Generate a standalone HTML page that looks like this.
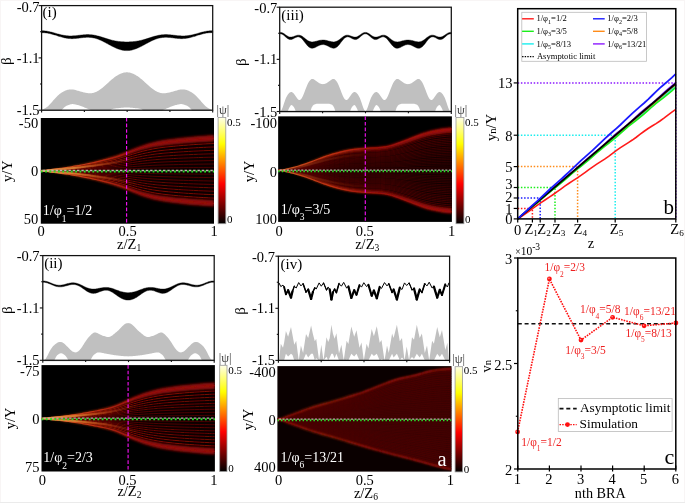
<!DOCTYPE html>
<html><head><meta charset="utf-8"><style>html,body{margin:0;padding:0;background:#fff;width:685px;height:503px;overflow:hidden}svg{display:block;will-change:transform}text{font-family:"Liberation Serif",serif}</style></head>
<body><svg width="685" height="503" viewBox="0 0 685 503" font-family='"Liberation Serif", serif'><defs><clipPath id="clipiv"><rect x="278.4" y="250" width="171.2" height="115"/></clipPath><filter id="blur1" x="-10%" y="-50%" width="120%" height="200%"><feGaussianBlur stdDeviation="1.0"/></filter><filter id="blur15" x="-10%" y="-50%" width="120%" height="200%"><feGaussianBlur stdDeviation="1.4"/></filter><filter id="blur05" x="-10%" y="-50%" width="120%" height="200%"><feGaussianBlur stdDeviation="0.55"/></filter><clipPath id="hci"><rect x="40.8" y="118" width="173.2" height="105.7"/></clipPath><path id="envi" d="M40.8,-0 C41.65,-0.07 44.2,-0.19 45.89,-0.4 C47.59,-0.62 49.29,-1.03 50.99,-1.29 C52.69,-1.55 54.38,-1.73 56.08,-1.96 C57.78,-2.19 59.48,-2.43 61.18,-2.67 C62.87,-2.92 64.57,-3.17 66.27,-3.42 C67.97,-3.68 69.67,-3.93 71.36,-4.21 C73.06,-4.49 74.76,-4.77 76.46,-5.08 C78.16,-5.38 79.85,-5.71 81.55,-6.04 C83.25,-6.37 84.95,-6.72 86.65,-7.07 C88.35,-7.42 90.04,-7.78 91.74,-8.16 C93.44,-8.53 95.14,-8.93 96.84,-9.33 C98.53,-9.73 100.23,-10.15 101.93,-10.58 C103.63,-11 105.33,-11.43 107.02,-11.88 C108.72,-12.32 110.42,-12.77 112.12,-13.27 C113.82,-13.76 115.51,-14.28 117.21,-14.84 C118.91,-15.4 120.61,-15.99 122.31,-16.61 C124,-17.24 125.7,-17.91 127.4,-18.58 C129.1,-19.25 130.8,-19.97 132.49,-20.65 C134.19,-21.32 135.89,-22.01 137.59,-22.63 C139.29,-23.26 140.98,-23.86 142.68,-24.41 C144.38,-24.96 146.08,-25.47 147.78,-25.94 C149.47,-26.42 151.17,-26.86 152.87,-27.26 C154.57,-27.66 156.27,-28.02 157.96,-28.35 C159.66,-28.68 161.36,-28.96 163.06,-29.23 C164.76,-29.5 166.45,-29.74 168.15,-29.97 C169.85,-30.2 171.55,-30.41 173.25,-30.62 C174.95,-30.83 176.64,-31.03 178.34,-31.22 C180.04,-31.41 181.74,-31.59 183.44,-31.76 C185.13,-31.93 186.83,-32.09 188.53,-32.25 C190.23,-32.4 191.93,-32.56 193.62,-32.7 C195.32,-32.85 197.02,-32.99 198.72,-33.12 C200.42,-33.25 202.11,-33.38 203.81,-33.49 C205.51,-33.61 207.21,-33.73 208.91,-33.83 C210.6,-33.93 213.15,-34.04 214,-34.08" fill="none" vector-effect="non-scaling-stroke"/><linearGradient id="ogi" x1="40.8" y1="0" x2="214" y2="0" gradientUnits="userSpaceOnUse"><stop offset="0" stop-color="#d86a2a"/><stop offset="0.3" stop-color="#c03010"/><stop offset="0.55" stop-color="#900c08"/><stop offset="1" stop-color="#900c08"/></linearGradient><linearGradient id="cgi" x1="40.8" y1="0" x2="144.72" y2="0" gradientUnits="userSpaceOnUse"><stop offset="0" stop-color="#ffd070" stop-opacity="0.4"/><stop offset="0.3" stop-color="#f0a040" stop-opacity="0.76"/><stop offset="0.6" stop-color="#d86020" stop-opacity="0.48"/><stop offset="1" stop-color="#a02010" stop-opacity="0"/></linearGradient><clipPath id="hcii"><rect x="41.5" y="365.1" width="173.4" height="106.4"/></clipPath><path id="envii" d="M41.5,-0 C42.35,-0.06 44.9,-0.16 46.6,-0.35 C48.3,-0.53 50,-0.89 51.7,-1.12 C53.4,-1.34 55.1,-1.5 56.8,-1.7 C58.5,-1.9 60.2,-2.11 61.9,-2.32 C63.6,-2.53 65.3,-2.76 67,-2.98 C68.7,-3.21 70.4,-3.43 72.1,-3.68 C73.8,-3.92 75.5,-4.17 77.2,-4.43 C78.9,-4.7 80.6,-4.98 82.3,-5.26 C84,-5.55 85.7,-5.84 87.4,-6.15 C89.1,-6.45 90.8,-6.76 92.5,-7.09 C94.2,-7.41 95.9,-7.76 97.6,-8.11 C99.3,-8.47 101,-8.83 102.7,-9.21 C104.4,-9.6 106.1,-9.98 107.8,-10.43 C109.5,-10.88 111.2,-11.35 112.9,-11.91 C114.6,-12.47 116.3,-13.1 118,-13.79 C119.7,-14.47 121.4,-15.25 123.1,-16.01 C124.8,-16.77 126.5,-17.59 128.2,-18.34 C129.9,-19.09 131.6,-19.82 133.3,-20.5 C135,-21.19 136.7,-21.84 138.4,-22.46 C140.1,-23.08 141.8,-23.67 143.5,-24.22 C145.2,-24.78 146.9,-25.3 148.6,-25.79 C150.3,-26.28 152,-26.73 153.7,-27.15 C155.4,-27.57 157.1,-27.95 158.8,-28.3 C160.5,-28.65 162.2,-28.96 163.9,-29.25 C165.6,-29.54 167.3,-29.79 169,-30.04 C170.7,-30.29 172.4,-30.52 174.1,-30.75 C175.8,-30.97 177.5,-31.19 179.2,-31.4 C180.9,-31.6 182.6,-31.78 184.3,-31.96 C186,-32.13 187.7,-32.29 189.4,-32.45 C191.1,-32.6 192.8,-32.76 194.5,-32.9 C196.2,-33.05 197.9,-33.19 199.6,-33.32 C201.3,-33.45 203,-33.58 204.7,-33.69 C206.4,-33.81 208.1,-33.93 209.8,-34.03 C211.5,-34.13 214.05,-34.24 214.9,-34.28" fill="none" vector-effect="non-scaling-stroke"/><linearGradient id="ogii" x1="41.5" y1="0" x2="214.9" y2="0" gradientUnits="userSpaceOnUse"><stop offset="0" stop-color="#d86a2a"/><stop offset="0.3" stop-color="#c03010"/><stop offset="0.55" stop-color="#900c08"/><stop offset="1" stop-color="#900c08"/></linearGradient><linearGradient id="cgii" x1="41.5" y1="0" x2="145.54" y2="0" gradientUnits="userSpaceOnUse"><stop offset="0" stop-color="#ffd070" stop-opacity="0.4"/><stop offset="0.3" stop-color="#f0a040" stop-opacity="0.76"/><stop offset="0.6" stop-color="#d86020" stop-opacity="0.48"/><stop offset="1" stop-color="#a02010" stop-opacity="0"/></linearGradient><clipPath id="hciii"><rect x="278.15" y="116.35" width="173.75" height="105.55"/></clipPath><path id="enviii" d="M278.15,-0 C279,-0.09 281.56,-0.24 283.26,-0.56 C284.96,-0.88 286.67,-1.49 288.37,-1.92 C290.07,-2.36 291.78,-2.72 293.48,-3.16 C295.18,-3.61 296.89,-4.1 298.59,-4.61 C300.29,-5.13 302,-5.68 303.7,-6.26 C305.4,-6.84 307.11,-7.46 308.81,-8.09 C310.52,-8.73 312.22,-9.41 313.92,-10.07 C315.63,-10.74 317.33,-11.43 319.03,-12.09 C320.74,-12.75 322.44,-13.41 324.14,-14.04 C325.85,-14.66 327.55,-15.25 329.25,-15.82 C330.96,-16.39 332.66,-16.93 334.36,-17.44 C336.07,-17.94 337.77,-18.41 339.47,-18.85 C341.18,-19.29 342.88,-19.71 344.58,-20.08 C346.29,-20.45 347.99,-20.77 349.69,-21.06 C351.4,-21.35 353.1,-21.6 354.8,-21.82 C356.51,-22.04 358.21,-22.21 359.91,-22.37 C361.62,-22.54 363.32,-22.69 365.02,-22.82 C366.73,-22.96 368.43,-23.07 370.14,-23.18 C371.84,-23.29 373.54,-23.37 375.25,-23.47 C376.95,-23.57 378.65,-23.63 380.36,-23.79 C382.06,-23.95 383.76,-24.12 385.47,-24.42 C387.17,-24.73 388.87,-25.16 390.58,-25.64 C392.28,-26.12 393.98,-26.71 395.69,-27.3 C397.39,-27.89 399.09,-28.55 400.8,-29.19 C402.5,-29.84 404.2,-30.51 405.91,-31.18 C407.61,-31.84 409.31,-32.52 411.02,-33.18 C412.72,-33.85 414.42,-34.51 416.13,-35.16 C417.83,-35.8 419.53,-36.47 421.24,-37.06 C422.94,-37.66 424.65,-38.23 426.35,-38.74 C428.05,-39.26 429.76,-39.72 431.46,-40.13 C433.16,-40.53 434.87,-40.88 436.57,-41.2 C438.27,-41.52 439.98,-41.8 441.68,-42.05 C443.38,-42.31 445.09,-42.55 446.79,-42.74 C448.49,-42.92 451.05,-43.11 451.9,-43.19" fill="none" vector-effect="non-scaling-stroke"/><linearGradient id="ogiii" x1="278.15" y1="0" x2="451.9" y2="0" gradientUnits="userSpaceOnUse"><stop offset="0" stop-color="#c05020"/><stop offset="0.3" stop-color="#c03010"/><stop offset="0.55" stop-color="#9a1008"/><stop offset="1" stop-color="#9a1008"/></linearGradient><linearGradient id="cgiii" x1="278.15" y1="0" x2="382.4" y2="0" gradientUnits="userSpaceOnUse"><stop offset="0" stop-color="#ffd070" stop-opacity="0.1"/><stop offset="0.3" stop-color="#f0a040" stop-opacity="0.19"/><stop offset="0.6" stop-color="#d86020" stop-opacity="0.12"/><stop offset="1" stop-color="#a02010" stop-opacity="0"/></linearGradient><clipPath id="hciv"><rect x="277.4" y="366.1" width="174.1" height="105.5"/></clipPath><path id="enviv" d="M277.4,-0 C278.25,-0.17 280.81,-0.48 282.52,-1.05 C284.23,-1.62 285.93,-2.71 287.64,-3.42 C289.35,-4.12 291.05,-4.63 292.76,-5.27 C294.47,-5.9 296.18,-6.57 297.88,-7.24 C299.59,-7.91 301.3,-8.62 303,-9.27 C304.71,-9.93 306.42,-10.58 308.12,-11.17 C309.83,-11.77 311.54,-12.31 313.24,-12.84 C314.95,-13.37 316.66,-13.84 318.36,-14.34 C320.07,-14.83 321.78,-15.31 323.49,-15.8 C325.19,-16.29 326.9,-16.79 328.61,-17.29 C330.31,-17.79 332.02,-18.3 333.73,-18.8 C335.43,-19.31 337.14,-19.82 338.85,-20.34 C340.55,-20.85 342.26,-21.36 343.97,-21.88 C345.67,-22.4 347.38,-22.92 349.09,-23.45 C350.8,-23.97 352.5,-24.49 354.21,-25.03 C355.92,-25.58 357.62,-26.12 359.33,-26.7 C361.04,-27.28 362.74,-27.89 364.45,-28.53 C366.16,-29.16 367.86,-29.84 369.57,-30.51 C371.28,-31.18 372.98,-31.88 374.69,-32.56 C376.4,-33.24 378.1,-33.92 379.81,-34.59 C381.52,-35.25 383.23,-35.91 384.93,-36.57 C386.64,-37.23 388.35,-37.91 390.05,-38.54 C391.76,-39.16 393.47,-39.78 395.17,-40.33 C396.88,-40.88 398.59,-41.37 400.29,-41.82 C402,-42.26 403.71,-42.61 405.41,-42.99 C407.12,-43.36 408.83,-43.67 410.54,-44.05 C412.24,-44.43 413.95,-44.82 415.66,-45.26 C417.36,-45.69 419.07,-46.18 420.78,-46.66 C422.48,-47.14 424.19,-47.69 425.9,-48.16 C427.6,-48.62 429.31,-49.08 431.02,-49.45 C432.72,-49.82 434.43,-50.12 436.14,-50.38 C437.85,-50.64 439.55,-50.8 441.26,-50.98 C442.97,-51.16 444.67,-51.32 446.38,-51.46 C448.09,-51.61 450.65,-51.77 451.5,-51.83" fill="none" vector-effect="non-scaling-stroke"/><path id="envdiv" d="M277.4,0 C278.25,0.17 280.81,0.46 282.52,1 C284.23,1.55 285.93,2.6 287.64,3.27 C289.35,3.95 291.05,4.44 292.76,5.05 C294.47,5.67 296.18,6.32 297.88,6.96 C299.59,7.61 301.3,8.3 303,8.94 C304.71,9.58 306.42,10.22 308.12,10.81 C309.83,11.39 311.54,11.94 313.24,12.47 C314.95,13 316.66,13.49 318.36,13.99 C320.07,14.49 321.78,14.98 323.49,15.48 C325.19,15.98 326.9,16.48 328.61,16.98 C330.31,17.49 332.02,18 333.73,18.5 C335.43,19.01 337.14,19.52 338.85,20.03 C340.55,20.55 342.26,21.06 343.97,21.57 C345.67,22.09 347.38,22.6 349.09,23.12 C350.8,23.64 352.5,24.16 354.21,24.68 C355.92,25.2 357.62,25.71 359.33,26.23 C361.04,26.75 362.74,27.26 364.45,27.78 C366.16,28.29 367.86,28.8 369.57,29.31 C371.28,29.82 372.98,30.33 374.69,30.83 C376.4,31.32 378.1,31.82 379.81,32.29 C381.52,32.77 383.23,33.23 384.93,33.69 C386.64,34.14 388.35,34.59 390.05,35.04 C391.76,35.49 393.47,35.93 395.17,36.38 C396.88,36.82 398.59,37.27 400.29,37.71 C402,38.15 403.71,38.59 405.41,39.04 C407.12,39.48 408.83,39.92 410.54,40.37 C412.24,40.82 413.95,41.28 415.66,41.75 C417.36,42.22 419.07,42.7 420.78,43.18 C422.48,43.66 424.19,44.16 425.9,44.65 C427.6,45.13 429.31,45.61 431.02,46.08 C432.72,46.56 434.43,47.02 436.14,47.48 C437.85,47.93 439.55,48.39 441.26,48.83 C442.97,49.26 444.67,49.72 446.38,50.09 C448.09,50.46 450.65,50.89 451.5,51.05" fill="none" vector-effect="non-scaling-stroke"/><linearGradient id="ogiv" x1="277.4" y1="0" x2="451.5" y2="0" gradientUnits="userSpaceOnUse"><stop offset="0" stop-color="#b81a10"/><stop offset="0.3" stop-color="#c03010"/><stop offset="0.55" stop-color="#c01c12"/><stop offset="1" stop-color="#c01c12"/></linearGradient><linearGradient id="hot" x1="0" y1="1" x2="0" y2="0"><stop offset="0" stop-color="#000"/><stop offset="0.375" stop-color="#ff0000"/><stop offset="0.75" stop-color="#ffff00"/><stop offset="1" stop-color="#ffffe8"/></linearGradient></defs><rect width="685" height="503" fill="#fff"/><path d="M41.7,110 L42.4,109.68 L43.11,109.35 L43.81,109 L44.51,108.62 L45.22,108.22 L45.92,107.78 L46.62,107.29 L47.33,106.77 L48.03,106.19 L48.73,105.56 L49.44,104.87 L50.14,104.12 L50.84,103.34 L51.55,102.52 L52.25,101.69 L52.95,100.85 L53.66,100.02 L54.36,99.2 L55.06,98.41 L55.77,97.64 L56.47,96.9 L57.17,96.2 L57.88,95.53 L58.58,94.89 L59.28,94.3 L59.99,93.74 L60.69,93.23 L61.39,92.75 L62.1,92.31 L62.8,91.9 L63.5,91.53 L64.21,91.18 L64.91,90.86 L65.61,90.57 L66.32,90.3 L67.02,90.07 L67.72,89.87 L68.43,89.7 L69.13,89.57 L69.83,89.47 L70.54,89.41 L71.24,89.4 L71.94,89.43 L72.65,89.49 L73.35,89.59 L74.05,89.72 L74.76,89.87 L75.46,90.05 L76.16,90.23 L76.87,90.43 L77.57,90.63 L78.27,90.84 L78.98,91.04 L79.68,91.24 L80.38,91.44 L81.09,91.64 L81.79,91.83 L82.49,92.02 L83.2,92.2 L83.9,92.38 L84.6,92.55 L85.3,92.71 L86.01,92.86 L86.71,93 L87.41,93.12 L88.12,93.21 L88.82,93.28 L89.52,93.32 L90.23,93.33 L90.93,93.3 L91.63,93.23 L92.34,93.12 L93.04,92.97 L93.74,92.79 L94.45,92.56 L95.15,92.31 L95.85,92.01 L96.56,91.69 L97.26,91.33 L97.96,90.94 L98.67,90.52 L99.37,90.06 L100.07,89.59 L100.78,89.08 L101.48,88.55 L102.18,88 L102.89,87.43 L103.59,86.84 L104.29,86.23 L105,85.61 L105.7,84.97 L106.4,84.33 L107.11,83.68 L107.81,83.03 L108.51,82.38 L109.22,81.73 L109.92,81.1 L110.62,80.48 L111.33,79.87 L112.03,79.28 L112.73,78.71 L113.44,78.16 L114.14,77.62 L114.84,77.1 L115.55,76.6 L116.25,76.12 L116.95,75.66 L117.66,75.22 L118.36,74.8 L119.06,74.4 L119.77,74.04 L120.47,73.7 L121.17,73.4 L121.88,73.13 L122.58,72.9 L123.28,72.71 L123.99,72.57 L124.69,72.46 L125.39,72.39 L126.1,72.34 L126.8,72.3 L127.5,72.34 L128.21,72.39 L128.91,72.46 L129.61,72.57 L130.32,72.71 L131.02,72.9 L131.72,73.13 L132.43,73.4 L133.13,73.7 L133.83,74.04 L134.54,74.4 L135.24,74.8 L135.94,75.22 L136.65,75.66 L137.35,76.12 L138.05,76.6 L138.76,77.1 L139.46,77.62 L140.16,78.16 L140.87,78.71 L141.57,79.28 L142.27,79.87 L142.98,80.48 L143.68,81.1 L144.38,81.73 L145.09,82.38 L145.79,83.03 L146.49,83.68 L147.2,84.33 L147.9,84.97 L148.6,85.61 L149.31,86.23 L150.01,86.84 L150.71,87.43 L151.42,88 L152.12,88.55 L152.82,89.08 L153.53,89.59 L154.23,90.06 L154.93,90.52 L155.64,90.94 L156.34,91.33 L157.04,91.69 L157.75,92.01 L158.45,92.31 L159.15,92.56 L159.86,92.79 L160.56,92.97 L161.26,93.12 L161.97,93.23 L162.67,93.3 L163.37,93.33 L164.08,93.32 L164.78,93.28 L165.48,93.21 L166.19,93.12 L166.89,93 L167.59,92.86 L168.3,92.71 L169,92.55 L169.7,92.38 L170.4,92.2 L171.11,92.02 L171.81,91.83 L172.51,91.64 L173.22,91.44 L173.92,91.24 L174.62,91.04 L175.33,90.84 L176.03,90.63 L176.73,90.43 L177.44,90.23 L178.14,90.05 L178.84,89.87 L179.55,89.72 L180.25,89.59 L180.95,89.49 L181.66,89.43 L182.36,89.4 L183.06,89.41 L183.77,89.47 L184.47,89.57 L185.17,89.7 L185.88,89.87 L186.58,90.07 L187.28,90.3 L187.99,90.57 L188.69,90.86 L189.39,91.18 L190.1,91.53 L190.8,91.9 L191.5,92.31 L192.21,92.75 L192.91,93.23 L193.61,93.74 L194.32,94.3 L195.02,94.89 L195.72,95.53 L196.43,96.2 L197.13,96.9 L197.83,97.64 L198.54,98.41 L199.24,99.2 L199.94,100.02 L200.65,100.85 L201.35,101.69 L202.05,102.52 L202.76,103.34 L203.46,104.12 L204.16,104.87 L204.87,105.56 L205.57,106.19 L206.27,106.77 L206.98,107.29 L207.68,107.78 L208.38,108.22 L209.09,108.62 L209.79,109 L210.49,109.35 L211.2,109.68 L211.9,110 L211.9,110.9 L41.7,110.9 Z" fill="#c0c0c0"/>
<path d="M61.5,110.4 L62.21,109.54 L62.93,108.71 L63.64,107.94 L64.36,107.25 L65.07,106.67 L65.79,106.21 L66.5,105.86 L67.21,105.53 L67.93,105.22 L68.64,104.93 L69.36,104.67 L70.07,104.46 L70.79,104.28 L71.5,104.16 L72.21,104.11 L72.93,104.11 L73.64,104.16 L74.36,104.25 L75.07,104.38 L75.79,104.53 L76.5,104.7 L77.21,104.89 L77.93,105.08 L78.64,105.28 L79.36,105.47 L80.07,105.69 L80.79,105.94 L81.5,106.21 L82.21,106.51 L82.93,106.81 L83.64,107.12 L84.36,107.43 L85.07,107.74 L85.79,108.03 L86.5,108.32 L87.21,108.62 L87.93,108.91 L88.64,109.2 L89.36,109.5 L90.07,109.8 L90.79,110.1 L91.5,110.4 Z" fill="#fff"/>
<path d="M192.1,110.4 L191.39,109.54 L190.67,108.71 L189.96,107.94 L189.24,107.25 L188.53,106.67 L187.81,106.21 L187.1,105.86 L186.39,105.53 L185.67,105.22 L184.96,104.93 L184.24,104.67 L183.53,104.46 L182.81,104.28 L182.1,104.16 L181.39,104.11 L180.67,104.11 L179.96,104.16 L179.24,104.25 L178.53,104.38 L177.81,104.53 L177.1,104.7 L176.39,104.89 L175.67,105.08 L174.96,105.28 L174.24,105.47 L173.53,105.69 L172.81,105.94 L172.1,106.21 L171.39,106.51 L170.67,106.81 L169.96,107.12 L169.24,107.43 L168.53,107.74 L167.81,108.03 L167.1,108.32 L166.39,108.62 L165.67,108.91 L164.96,109.2 L164.24,109.5 L163.53,109.8 L162.81,110.1 L162.1,110.4 Z" fill="#fff"/>
<path d="M110.5,110.4 L111.21,109.66 L111.92,109.13 L112.63,108.93 L113.33,108.77 L114.04,108.63 L114.75,108.52 L115.46,108.42 L116.17,108.34 L116.88,108.27 L117.59,108.21 L118.3,108.14 L119,108.08 L119.71,108.01 L120.42,107.93 L121.13,107.86 L121.84,107.79 L122.55,107.73 L123.26,107.66 L123.97,107.6 L124.67,107.55 L125.38,107.49 L126.09,107.44 L126.8,107.4 L127.51,107.44 L128.22,107.49 L128.93,107.55 L129.63,107.6 L130.34,107.66 L131.05,107.73 L131.76,107.79 L132.47,107.86 L133.18,107.93 L133.89,108.01 L134.6,108.08 L135.3,108.14 L136.01,108.21 L136.72,108.27 L137.43,108.34 L138.14,108.42 L138.85,108.52 L139.56,108.63 L140.27,108.77 L140.97,108.93 L141.68,109.13 L142.39,109.66 L143.1,110.4 Z" fill="#fff"/>
<path d="M41.7,30.75 L42.5,30.76 L43.3,30.79 L44.1,30.84 L44.9,30.92 L45.7,31.01 L46.49,31.12 L47.29,31.24 L48.09,31.39 L48.89,31.55 L49.69,31.72 L50.49,31.91 L51.29,32.1 L52.09,32.31 L52.89,32.53 L53.69,32.75 L54.49,32.97 L55.28,33.2 L56.08,33.43 L56.88,33.65 L57.68,33.88 L58.48,34.1 L59.28,34.31 L60.08,34.51 L60.88,34.71 L61.68,34.89 L62.48,35.06 L63.27,35.22 L64.07,35.37 L64.87,35.49 L65.67,35.61 L66.47,35.7 L67.27,35.78 L68.07,35.84 L68.87,35.89 L69.67,35.92 L70.47,35.93 L71.27,35.93 L72.06,35.91 L72.86,35.87 L73.66,35.83 L74.46,35.77 L75.26,35.7 L76.06,35.63 L76.86,35.54 L77.66,35.45 L78.46,35.36 L79.26,35.26 L80.06,35.17 L80.85,35.07 L81.65,34.98 L82.45,34.9 L83.25,34.82 L84.05,34.75 L84.85,34.69 L85.65,34.64 L86.45,34.61 L87.25,34.59 L88.05,34.59 L88.84,34.6 L89.64,34.63 L90.44,34.68 L91.24,34.75 L92.04,34.83 L92.84,34.93 L93.64,35.05 L94.44,35.19 L95.24,35.35 L96.04,35.52 L96.84,35.7 L97.63,35.9 L98.43,36.12 L99.23,36.34 L100.03,36.57 L100.83,36.82 L101.63,37.06 L102.43,37.32 L103.23,37.57 L104.03,37.83 L104.83,38.09 L105.63,38.35 L106.42,38.6 L107.22,38.85 L108.02,39.1 L108.82,39.34 L109.62,39.57 L110.42,39.79 L111.22,40 L112.02,40.2 L112.82,40.39 L113.62,40.57 L114.41,40.73 L115.21,40.89 L116.01,41.03 L116.81,41.16 L117.61,41.28 L118.41,41.39 L119.21,41.49 L120.01,41.58 L120.81,41.65 L121.61,41.72 L122.41,41.77 L123.2,41.82 L124,41.85 L124.8,41.88 L125.6,41.9 L126.4,41.91 L127.2,41.91 L128,41.9 L128.8,41.88 L129.6,41.85 L130.4,41.82 L131.2,41.77 L131.99,41.72 L132.79,41.65 L133.59,41.58 L134.39,41.49 L135.19,41.39 L135.99,41.28 L136.79,41.16 L137.59,41.03 L138.39,40.89 L139.19,40.73 L139.99,40.57 L140.78,40.39 L141.58,40.2 L142.38,40 L143.18,39.79 L143.98,39.57 L144.78,39.34 L145.58,39.1 L146.38,38.85 L147.18,38.6 L147.98,38.35 L148.77,38.09 L149.57,37.83 L150.37,37.57 L151.17,37.32 L151.97,37.06 L152.77,36.82 L153.57,36.57 L154.37,36.34 L155.17,36.12 L155.97,35.9 L156.77,35.7 L157.56,35.52 L158.36,35.35 L159.16,35.19 L159.96,35.05 L160.76,34.93 L161.56,34.83 L162.36,34.75 L163.16,34.68 L163.96,34.63 L164.76,34.6 L165.56,34.59 L166.35,34.59 L167.15,34.61 L167.95,34.64 L168.75,34.69 L169.55,34.75 L170.35,34.82 L171.15,34.9 L171.95,34.98 L172.75,35.07 L173.55,35.17 L174.34,35.26 L175.14,35.36 L175.94,35.45 L176.74,35.54 L177.54,35.63 L178.34,35.7 L179.14,35.77 L179.94,35.83 L180.74,35.87 L181.54,35.91 L182.34,35.93 L183.13,35.93 L183.93,35.92 L184.73,35.89 L185.53,35.84 L186.33,35.78 L187.13,35.7 L187.93,35.61 L188.73,35.49 L189.53,35.37 L190.33,35.22 L191.13,35.06 L191.92,34.89 L192.72,34.71 L193.52,34.51 L194.32,34.31 L195.12,34.1 L195.92,33.88 L196.72,33.65 L197.52,33.43 L198.32,33.2 L199.12,32.97 L199.91,32.75 L200.71,32.53 L201.51,32.31 L202.31,32.1 L203.11,31.91 L203.91,31.72 L204.71,31.55 L205.51,31.39 L206.31,31.24 L207.11,31.12 L207.91,31.01 L208.7,30.91 L209.5,30.84 L210.3,30.79 L211.1,30.76 L211.9,30.75 L212.7,30.76 L212.7,32.66 L211.9,32.65 L211.1,32.66 L210.3,32.69 L209.5,32.74 L208.7,32.8 L207.91,32.89 L207.11,33 L206.31,33.12 L205.51,33.26 L204.71,33.41 L203.91,33.59 L203.11,33.77 L202.31,33.97 L201.51,34.18 L200.71,34.41 L199.91,34.64 L199.12,34.88 L198.32,35.12 L197.52,35.37 L196.72,35.62 L195.92,35.88 L195.12,36.13 L194.32,36.38 L193.52,36.62 L192.72,36.86 L191.92,37.09 L191.13,37.3 L190.33,37.51 L189.53,37.7 L188.73,37.88 L187.93,38.04 L187.13,38.18 L186.33,38.3 L185.53,38.41 L184.73,38.49 L183.93,38.56 L183.13,38.6 L182.34,38.63 L181.54,38.64 L180.74,38.63 L179.94,38.6 L179.14,38.56 L178.34,38.5 L177.54,38.43 L176.74,38.35 L175.94,38.26 L175.14,38.17 L174.34,38.07 L173.55,37.96 L172.75,37.86 L171.95,37.76 L171.15,37.67 L170.35,37.58 L169.55,37.5 L168.75,37.44 L167.95,37.39 L167.15,37.35 L166.35,37.33 L165.56,37.33 L164.76,37.35 L163.96,37.39 L163.16,37.45 L162.36,37.54 L161.56,37.65 L160.76,37.78 L159.96,37.94 L159.16,38.12 L158.36,38.32 L157.56,38.55 L156.77,38.8 L155.97,39.08 L155.17,39.37 L154.37,39.68 L153.57,40.02 L152.77,40.37 L151.97,40.73 L151.17,41.11 L150.37,41.51 L149.57,41.91 L148.77,42.33 L147.98,42.75 L147.18,43.17 L146.38,43.61 L145.58,44.04 L144.78,44.47 L143.98,44.91 L143.18,45.34 L142.38,45.76 L141.58,46.18 L140.78,46.58 L139.99,46.98 L139.19,47.36 L138.39,47.73 L137.59,48.09 L136.79,48.42 L135.99,48.74 L135.19,49.04 L134.39,49.31 L133.59,49.56 L132.79,49.78 L131.99,49.98 L131.2,50.16 L130.4,50.3 L129.6,50.42 L128.8,50.51 L128,50.57 L127.2,50.6 L126.4,50.6 L125.6,50.57 L124.8,50.51 L124,50.42 L123.2,50.3 L122.41,50.16 L121.61,49.99 L120.81,49.79 L120.01,49.56 L119.21,49.31 L118.41,49.04 L117.61,48.74 L116.81,48.42 L116.01,48.09 L115.21,47.73 L114.41,47.36 L113.62,46.98 L112.82,46.58 L112.02,46.18 L111.22,45.76 L110.42,45.34 L109.62,44.91 L108.82,44.47 L108.02,44.04 L107.22,43.61 L106.42,43.17 L105.63,42.75 L104.83,42.33 L104.03,41.91 L103.23,41.51 L102.43,41.11 L101.63,40.73 L100.83,40.37 L100.03,40.02 L99.23,39.68 L98.43,39.37 L97.63,39.08 L96.84,38.8 L96.04,38.55 L95.24,38.32 L94.44,38.12 L93.64,37.94 L92.84,37.78 L92.04,37.65 L91.24,37.54 L90.44,37.45 L89.64,37.39 L88.84,37.35 L88.05,37.33 L87.25,37.33 L86.45,37.35 L85.65,37.39 L84.85,37.44 L84.05,37.5 L83.25,37.58 L82.45,37.67 L81.65,37.76 L80.85,37.86 L80.06,37.96 L79.26,38.07 L78.46,38.17 L77.66,38.26 L76.86,38.35 L76.06,38.43 L75.26,38.5 L74.46,38.56 L73.66,38.6 L72.86,38.63 L72.06,38.64 L71.27,38.63 L70.47,38.6 L69.67,38.56 L68.87,38.49 L68.07,38.41 L67.27,38.3 L66.47,38.18 L65.67,38.04 L64.87,37.88 L64.07,37.7 L63.27,37.51 L62.48,37.3 L61.68,37.09 L60.88,36.86 L60.08,36.62 L59.28,36.38 L58.48,36.13 L57.68,35.88 L56.88,35.62 L56.08,35.37 L55.28,35.12 L54.49,34.88 L53.69,34.64 L52.89,34.41 L52.09,34.18 L51.29,33.97 L50.49,33.77 L49.69,33.59 L48.89,33.41 L48.09,33.26 L47.29,33.12 L46.49,33 L45.7,32.89 L44.9,32.8 L44.1,32.74 L43.3,32.69 L42.5,32.66 L41.7,32.65 Z" fill="#000" stroke="#000" stroke-width="0.4"/>
<rect x="41.6" y="5.6" width="171.1" height="104.6" fill="none" stroke="#111" stroke-width="1.25"/>
<line x1="38.6" y1="5.6" x2="41.6" y2="5.6" stroke="#111" stroke-width="1.1"/>
<line x1="40" y1="31.75" x2="41.6" y2="31.75" stroke="#111" stroke-width="1.1"/>
<line x1="38.6" y1="57.9" x2="41.6" y2="57.9" stroke="#111" stroke-width="1.1"/>
<line x1="40" y1="84.05" x2="41.6" y2="84.05" stroke="#111" stroke-width="1.1"/>
<line x1="38.6" y1="110.2" x2="41.6" y2="110.2" stroke="#111" stroke-width="1.1"/>
<line x1="41.6" y1="110.2" x2="41.6" y2="112.6" stroke="#111" stroke-width="1.1"/>
<line x1="84.38" y1="110.2" x2="84.38" y2="112" stroke="#111" stroke-width="1.1"/>
<line x1="127.15" y1="110.2" x2="127.15" y2="112" stroke="#111" stroke-width="1.1"/>
<line x1="169.92" y1="110.2" x2="169.92" y2="112" stroke="#111" stroke-width="1.1"/>
<line x1="212.7" y1="110.2" x2="212.7" y2="112.6" stroke="#111" stroke-width="1.1"/>
<text x="39.6" y="11.8" font-size="14.5" text-anchor="end" fill="#000">-0.7</text>
<text x="39.6" y="63.3" font-size="14.5" text-anchor="end" fill="#000">-1.1</text>
<text x="39.6" y="114.9" font-size="14.5" text-anchor="end" fill="#000">-1.5</text>
<text x="0" y="0" font-size="15" text-anchor="middle" transform="translate(10.8,61.1) rotate(-90)">β</text>
<text x="42.6" y="17" font-size="15" text-anchor="start" fill="#000">(i)</text>
<path d="M42.9,360.2 L43.6,360.16 L44.31,359.96 L45.01,359.47 L45.72,358.66 L46.42,357.58 L47.12,356.32 L47.83,354.94 L48.53,353.5 L49.24,352.07 L49.94,350.72 L50.65,349.51 L51.35,348.43 L52.05,347.46 L52.76,346.6 L53.46,345.82 L54.17,345.13 L54.87,344.49 L55.57,343.91 L56.28,343.39 L56.98,342.92 L57.69,342.53 L58.39,342.22 L59.1,342.01 L59.8,341.9 L60.5,341.91 L61.21,342.03 L61.91,342.27 L62.62,342.61 L63.32,343.03 L64.02,343.54 L64.73,344.11 L65.43,344.74 L66.14,345.42 L66.84,346.13 L67.54,346.86 L68.25,347.6 L68.95,348.33 L69.66,349.04 L70.36,349.71 L71.07,350.34 L71.77,350.91 L72.47,351.4 L73.18,351.81 L73.88,352.12 L74.59,352.32 L75.29,352.4 L75.99,352.35 L76.7,352.16 L77.4,351.85 L78.11,351.4 L78.81,350.84 L79.51,350.15 L80.22,349.36 L80.92,348.45 L81.63,347.47 L82.33,346.41 L83.04,345.32 L83.74,344.2 L84.44,343.08 L85.15,341.98 L85.85,340.93 L86.56,339.92 L87.26,338.97 L87.96,338.06 L88.67,337.21 L89.37,336.4 L90.08,335.64 L90.78,334.92 L91.49,334.26 L92.19,333.67 L92.89,333.18 L93.6,332.8 L94.3,332.56 L95.01,332.47 L95.71,332.53 L96.41,332.71 L97.12,332.98 L97.82,333.33 L98.53,333.71 L99.23,334.1 L99.93,334.47 L100.64,334.81 L101.34,335.11 L102.05,335.39 L102.75,335.64 L103.46,335.88 L104.16,336.11 L104.86,336.33 L105.57,336.54 L106.27,336.75 L106.98,336.92 L107.68,337.03 L108.38,337.06 L109.09,336.98 L109.79,336.8 L110.5,336.5 L111.2,336.12 L111.9,335.67 L112.61,335.16 L113.31,334.61 L114.02,334.03 L114.72,333.45 L115.43,332.86 L116.13,332.27 L116.83,331.67 L117.54,331.05 L118.24,330.41 L118.95,329.76 L119.65,329.07 L120.35,328.36 L121.06,327.62 L121.76,326.86 L122.47,326.11 L123.17,325.38 L123.88,324.72 L124.58,324.16 L125.28,323.71 L125.99,323.41 L126.69,323.23 L127.4,323.15 L128.1,323.1 L128.8,323.15 L129.51,323.23 L130.21,323.41 L130.92,323.71 L131.62,324.16 L132.32,324.72 L133.03,325.38 L133.73,326.11 L134.44,326.86 L135.14,327.62 L135.85,328.36 L136.55,329.07 L137.25,329.76 L137.96,330.41 L138.66,331.05 L139.37,331.67 L140.07,332.27 L140.77,332.86 L141.48,333.45 L142.18,334.03 L142.89,334.61 L143.59,335.16 L144.3,335.67 L145,336.12 L145.7,336.5 L146.41,336.8 L147.11,336.98 L147.82,337.06 L148.52,337.03 L149.22,336.92 L149.93,336.75 L150.63,336.54 L151.34,336.33 L152.04,336.11 L152.74,335.88 L153.45,335.64 L154.15,335.39 L154.86,335.11 L155.56,334.81 L156.27,334.47 L156.97,334.1 L157.67,333.71 L158.38,333.33 L159.08,332.98 L159.79,332.71 L160.49,332.53 L161.19,332.47 L161.9,332.56 L162.6,332.8 L163.31,333.18 L164.01,333.67 L164.71,334.26 L165.42,334.92 L166.12,335.64 L166.83,336.4 L167.53,337.21 L168.24,338.06 L168.94,338.97 L169.64,339.92 L170.35,340.93 L171.05,341.98 L171.76,343.08 L172.46,344.2 L173.16,345.32 L173.87,346.41 L174.57,347.47 L175.28,348.45 L175.98,349.36 L176.69,350.15 L177.39,350.84 L178.09,351.4 L178.8,351.85 L179.5,352.16 L180.21,352.35 L180.91,352.4 L181.61,352.32 L182.32,352.12 L183.02,351.81 L183.73,351.4 L184.43,350.91 L185.13,350.34 L185.84,349.71 L186.54,349.04 L187.25,348.33 L187.95,347.6 L188.66,346.86 L189.36,346.13 L190.06,345.42 L190.77,344.74 L191.47,344.11 L192.18,343.54 L192.88,343.03 L193.58,342.61 L194.29,342.27 L194.99,342.03 L195.7,341.91 L196.4,341.9 L197.1,342.01 L197.81,342.22 L198.51,342.53 L199.22,342.92 L199.92,343.39 L200.63,343.91 L201.33,344.49 L202.03,345.13 L202.74,345.82 L203.44,346.6 L204.15,347.46 L204.85,348.43 L205.55,349.51 L206.26,350.72 L206.96,352.07 L207.67,353.5 L208.37,354.94 L209.08,356.32 L209.78,357.58 L210.48,358.66 L211.19,359.47 L211.89,359.96 L212.6,360.16 L213.3,360.2 L213.3,361.2 L42.9,361.2 Z" fill="#c0c0c0"/>
<path d="M54.3,360.6 L55.01,358.94 L55.72,357.43 L56.43,356.2 L57.14,355.36 L57.85,354.75 L58.56,354.2 L59.27,353.73 L59.98,353.4 L60.69,353.22 L61.4,353.23 L62.11,353.43 L62.82,353.79 L63.53,354.25 L64.24,354.79 L64.95,355.36 L65.66,356.04 L66.37,356.95 L67.08,358.04 L67.79,359.27 L68.5,360.6 Z" fill="#fff"/>
<path d="M201.9,360.6 L201.19,358.94 L200.48,357.43 L199.77,356.2 L199.06,355.36 L198.35,354.75 L197.64,354.2 L196.93,353.73 L196.22,353.4 L195.51,353.22 L194.8,353.23 L194.09,353.43 L193.38,353.79 L192.67,354.25 L191.96,354.79 L191.25,355.36 L190.54,356.04 L189.83,356.95 L189.12,358.04 L188.41,359.27 L187.7,360.6 Z" fill="#fff"/>
<path d="M90.4,360.6 L91.11,359.1 L91.82,357.71 L92.53,356.48 L93.25,355.47 L93.96,354.75 L94.67,354.19 L95.38,353.66 L96.09,353.2 L96.8,352.82 L97.51,352.55 L98.22,352.41 L98.94,352.41 L99.65,352.46 L100.36,352.55 L101.07,352.67 L101.78,352.81 L102.49,352.96 L103.2,353.12 L103.92,353.27 L104.63,353.41 L105.34,353.54 L106.05,353.67 L106.76,353.79 L107.47,353.93 L108.18,354.06 L108.89,354.19 L109.61,354.32 L110.32,354.45 L111.03,354.58 L111.74,354.71 L112.45,354.82 L113.16,354.94 L113.87,355.04 L114.58,355.14 L115.3,355.23 L116.01,355.32 L116.72,355.41 L117.43,355.5 L118.14,355.58 L118.85,355.66 L119.56,355.73 L120.28,355.81 L120.99,355.88 L121.7,355.95 L122.41,356.01 L123.12,356.07 L123.83,356.13 L124.54,356.18 L125.25,356.23 L125.97,356.28 L126.68,356.32 L127.39,356.36 L128.1,356.4 L128.81,356.36 L129.52,356.32 L130.23,356.28 L130.95,356.23 L131.66,356.18 L132.37,356.13 L133.08,356.07 L133.79,356.01 L134.5,355.95 L135.21,355.88 L135.92,355.81 L136.64,355.73 L137.35,355.66 L138.06,355.58 L138.77,355.5 L139.48,355.41 L140.19,355.32 L140.9,355.23 L141.62,355.14 L142.33,355.04 L143.04,354.94 L143.75,354.82 L144.46,354.71 L145.17,354.58 L145.88,354.45 L146.59,354.32 L147.31,354.19 L148.02,354.06 L148.73,353.93 L149.44,353.79 L150.15,353.67 L150.86,353.54 L151.57,353.41 L152.28,353.27 L153,353.12 L153.71,352.96 L154.42,352.81 L155.13,352.67 L155.84,352.55 L156.55,352.46 L157.26,352.41 L157.98,352.41 L158.69,352.55 L159.4,352.82 L160.11,353.2 L160.82,353.66 L161.53,354.19 L162.24,354.75 L162.95,355.47 L163.67,356.48 L164.38,357.71 L165.09,359.1 L165.8,360.6 Z" fill="#fff"/>
<path d="M42.9,280.93 L43.7,280.96 L44.5,281.03 L45.3,281.16 L46.1,281.33 L46.9,281.54 L47.69,281.79 L48.49,282.07 L49.29,282.37 L50.09,282.69 L50.89,283.02 L51.69,283.35 L52.49,283.67 L53.29,283.97 L54.09,284.25 L54.89,284.51 L55.69,284.73 L56.48,284.92 L57.28,285.06 L58.08,285.16 L58.88,285.21 L59.68,285.22 L60.48,285.19 L61.28,285.11 L62.08,285 L62.88,284.86 L63.68,284.68 L64.47,284.49 L65.27,284.28 L66.07,284.06 L66.87,283.84 L67.67,283.62 L68.47,283.42 L69.27,283.24 L70.07,283.08 L70.87,282.95 L71.67,282.86 L72.47,282.82 L73.26,282.81 L74.06,282.85 L74.86,282.93 L75.66,283.06 L76.46,283.24 L77.26,283.46 L78.06,283.72 L78.86,284.02 L79.66,284.34 L80.46,284.7 L81.26,285.07 L82.05,285.46 L82.85,285.86 L83.65,286.25 L84.45,286.64 L85.25,287.02 L86.05,287.38 L86.85,287.71 L87.65,288.02 L88.45,288.29 L89.25,288.52 L90.04,288.71 L90.84,288.86 L91.64,288.97 L92.44,289.04 L93.24,289.06 L94.04,289.05 L94.84,289 L95.64,288.92 L96.44,288.81 L97.24,288.68 L98.04,288.53 L98.83,288.37 L99.63,288.21 L100.43,288.05 L101.23,287.9 L102.03,287.76 L102.83,287.64 L103.63,287.55 L104.43,287.48 L105.23,287.44 L106.03,287.43 L106.83,287.46 L107.62,287.52 L108.42,287.61 L109.22,287.74 L110.02,287.9 L110.82,288.1 L111.62,288.31 L112.42,288.56 L113.22,288.82 L114.02,289.1 L114.82,289.39 L115.61,289.69 L116.41,289.99 L117.21,290.29 L118.01,290.58 L118.81,290.87 L119.61,291.14 L120.41,291.4 L121.21,291.64 L122.01,291.86 L122.81,292.05 L123.61,292.23 L124.4,292.37 L125.2,292.49 L126,292.58 L126.8,292.65 L127.6,292.68 L128.4,292.68 L129.2,292.66 L130,292.6 L130.8,292.52 L131.6,292.41 L132.4,292.27 L133.19,292.1 L133.99,291.91 L134.79,291.69 L135.59,291.46 L136.39,291.21 L137.19,290.94 L137.99,290.65 L138.79,290.36 L139.59,290.06 L140.39,289.76 L141.19,289.46 L141.98,289.17 L142.78,288.89 L143.58,288.62 L144.38,288.37 L145.18,288.15 L145.98,287.95 L146.78,287.78 L147.58,287.64 L148.38,287.54 L149.18,287.47 L149.97,287.43 L150.77,287.43 L151.57,287.46 L152.37,287.53 L153.17,287.62 L153.97,287.73 L154.77,287.86 L155.57,288.01 L156.37,288.17 L157.17,288.33 L157.97,288.49 L158.76,288.64 L159.56,288.78 L160.36,288.89 L161.16,288.98 L161.96,289.04 L162.76,289.06 L163.56,289.05 L164.36,288.99 L165.16,288.89 L165.96,288.75 L166.76,288.57 L167.55,288.35 L168.35,288.09 L169.15,287.79 L169.95,287.47 L170.75,287.11 L171.55,286.74 L172.35,286.35 L173.15,285.96 L173.95,285.56 L174.75,285.17 L175.54,284.79 L176.34,284.43 L177.14,284.09 L177.94,283.79 L178.74,283.52 L179.54,283.29 L180.34,283.1 L181.14,282.96 L181.94,282.86 L182.74,282.81 L183.54,282.81 L184.33,282.85 L185.13,282.93 L185.93,283.05 L186.73,283.2 L187.53,283.37 L188.33,283.57 L189.13,283.78 L189.93,284 L190.73,284.22 L191.53,284.44 L192.33,284.64 L193.12,284.81 L193.92,284.97 L194.72,285.09 L195.52,285.17 L196.32,285.22 L197.12,285.22 L197.92,285.18 L198.72,285.09 L199.52,284.96 L200.32,284.78 L201.11,284.57 L201.91,284.32 L202.71,284.04 L203.51,283.74 L204.31,283.43 L205.11,283.1 L205.91,282.77 L206.71,282.45 L207.51,282.14 L208.31,281.86 L209.11,281.6 L209.9,281.38 L210.7,281.2 L211.5,281.06 L212.3,280.97 L213.1,280.93 L213.9,280.94 L213.9,282.24 L213.1,282.23 L212.3,282.27 L211.5,282.36 L210.7,282.49 L209.9,282.68 L209.11,282.91 L208.31,283.17 L207.51,283.46 L206.71,283.78 L205.91,284.11 L205.11,284.45 L204.31,284.79 L203.51,285.13 L202.71,285.45 L201.91,285.75 L201.11,286.02 L200.32,286.27 L199.52,286.47 L198.72,286.64 L197.92,286.76 L197.12,286.84 L196.32,286.87 L195.52,286.86 L194.72,286.8 L193.92,286.71 L193.12,286.58 L192.33,286.42 L191.53,286.23 L190.73,286.02 L189.93,285.81 L189.13,285.58 L188.33,285.36 L187.53,285.15 L186.73,284.95 L185.93,284.78 L185.13,284.64 L184.33,284.54 L183.54,284.48 L182.74,284.47 L181.94,284.51 L181.14,284.61 L180.34,284.77 L179.54,284.99 L178.74,285.27 L177.94,285.61 L177.14,286 L176.34,286.43 L175.54,286.92 L174.75,287.43 L173.95,287.98 L173.15,288.54 L172.35,289.12 L171.55,289.69 L170.75,290.26 L169.95,290.8 L169.15,291.31 L168.35,291.78 L167.55,292.21 L166.76,292.57 L165.96,292.88 L165.16,293.11 L164.36,293.28 L163.56,293.37 L162.76,293.4 L161.96,293.36 L161.16,293.25 L160.36,293.08 L159.56,292.87 L158.76,292.62 L157.97,292.33 L157.17,292.03 L156.37,291.71 L155.57,291.4 L154.77,291.11 L153.97,290.84 L153.17,290.61 L152.37,290.42 L151.57,290.29 L150.77,290.22 L149.97,290.21 L149.18,290.27 L148.38,290.4 L147.58,290.6 L146.78,290.86 L145.98,291.19 L145.18,291.57 L144.38,292.01 L143.58,292.49 L142.78,293 L141.98,293.54 L141.19,294.1 L140.39,294.67 L139.59,295.25 L138.79,295.81 L137.99,296.36 L137.19,296.89 L136.39,297.39 L135.59,297.86 L134.79,298.29 L133.99,298.68 L133.19,299.02 L132.4,299.32 L131.6,299.57 L130.8,299.77 L130,299.92 L129.2,300.01 L128.4,300.06 L127.6,300.05 L126.8,300 L126,299.89 L125.2,299.72 L124.4,299.51 L123.61,299.25 L122.81,298.94 L122.01,298.58 L121.21,298.18 L120.41,297.74 L119.61,297.27 L118.81,296.76 L118.01,296.23 L117.21,295.67 L116.41,295.1 L115.61,294.53 L114.82,293.96 L114.02,293.41 L113.22,292.87 L112.42,292.36 L111.62,291.9 L110.82,291.47 L110.02,291.1 L109.22,290.79 L108.42,290.54 L107.62,290.36 L106.83,290.25 L106.03,290.21 L105.23,290.23 L104.43,290.32 L103.63,290.47 L102.83,290.66 L102.03,290.91 L101.23,291.18 L100.43,291.48 L99.63,291.79 L98.83,292.1 L98.04,292.4 L97.24,292.68 L96.44,292.93 L95.64,293.13 L94.84,293.28 L94.04,293.37 L93.24,293.4 L92.44,293.36 L91.64,293.24 L90.84,293.06 L90.04,292.81 L89.25,292.49 L88.45,292.11 L87.65,291.67 L86.85,291.19 L86.05,290.67 L85.25,290.12 L84.45,289.55 L83.65,288.98 L82.85,288.4 L82.05,287.84 L81.26,287.3 L80.46,286.79 L79.66,286.32 L78.86,285.89 L78.06,285.52 L77.26,285.2 L76.46,284.93 L75.66,284.73 L74.86,284.58 L74.06,284.5 L73.26,284.47 L72.47,284.49 L71.67,284.56 L70.87,284.67 L70.07,284.82 L69.27,285 L68.47,285.2 L67.67,285.41 L66.87,285.64 L66.07,285.86 L65.27,286.08 L64.47,286.28 L63.68,286.46 L62.88,286.61 L62.08,286.74 L61.28,286.82 L60.48,286.86 L59.68,286.86 L58.88,286.82 L58.08,286.73 L57.28,286.6 L56.48,286.42 L55.69,286.21 L54.89,285.96 L54.09,285.68 L53.29,285.37 L52.49,285.04 L51.69,284.71 L50.89,284.36 L50.09,284.02 L49.29,283.7 L48.49,283.39 L47.69,283.1 L46.9,282.85 L46.1,282.63 L45.3,282.46 L44.5,282.33 L43.7,282.25 L42.9,282.22 Z" fill="#000" stroke="#000" stroke-width="0.4"/>
<rect x="42.8" y="255.6" width="171.4" height="104.7" fill="none" stroke="#111" stroke-width="1.25"/>
<line x1="39.8" y1="255.6" x2="42.8" y2="255.6" stroke="#111" stroke-width="1.1"/>
<line x1="41.2" y1="281.77" x2="42.8" y2="281.77" stroke="#111" stroke-width="1.1"/>
<line x1="39.8" y1="307.95" x2="42.8" y2="307.95" stroke="#111" stroke-width="1.1"/>
<line x1="41.2" y1="334.12" x2="42.8" y2="334.12" stroke="#111" stroke-width="1.1"/>
<line x1="39.8" y1="360.3" x2="42.8" y2="360.3" stroke="#111" stroke-width="1.1"/>
<line x1="42.8" y1="360.3" x2="42.8" y2="362.7" stroke="#111" stroke-width="1.1"/>
<line x1="85.65" y1="360.3" x2="85.65" y2="362.1" stroke="#111" stroke-width="1.1"/>
<line x1="128.5" y1="360.3" x2="128.5" y2="362.1" stroke="#111" stroke-width="1.1"/>
<line x1="171.35" y1="360.3" x2="171.35" y2="362.1" stroke="#111" stroke-width="1.1"/>
<line x1="214.2" y1="360.3" x2="214.2" y2="362.7" stroke="#111" stroke-width="1.1"/>
<text x="39.6" y="261.3" font-size="14.5" text-anchor="end" fill="#000">-0.7</text>
<text x="39.6" y="313" font-size="14.5" text-anchor="end" fill="#000">-1.1</text>
<text x="39.6" y="365.1" font-size="14.5" text-anchor="end" fill="#000">-1.5</text>
<text x="0" y="0" font-size="15" text-anchor="middle" transform="translate(11.9,310.3) rotate(-90)">β</text>
<text x="44.2" y="268.2" font-size="15" text-anchor="start" fill="#000">(ii)</text>
<path d="M279.8,111.5 L280.51,111.18 L281.21,110.56 L281.92,109.35 L282.63,107.6 L283.33,105.54 L284.04,103.37 L284.75,101.28 L285.45,99.34 L286.16,97.61 L286.87,96.16 L287.57,94.97 L288.28,94 L288.99,93.21 L289.69,92.59 L290.4,92.17 L291.1,92 L291.81,92.12 L292.52,92.49 L293.22,93.09 L293.93,93.87 L294.64,94.79 L295.34,95.79 L296.05,96.83 L296.76,97.84 L297.46,98.75 L298.17,99.48 L298.88,99.96 L299.58,100.1 L300.29,99.86 L301,99.26 L301.7,98.33 L302.41,97.09 L303.12,95.57 L303.82,93.84 L304.53,91.97 L305.24,90.06 L305.94,88.19 L306.65,86.43 L307.36,84.81 L308.06,83.36 L308.77,82.08 L309.48,81 L310.18,80.14 L310.89,79.5 L311.6,79.08 L312.3,78.91 L313.01,78.96 L313.71,79.22 L314.42,79.64 L315.13,80.15 L315.83,80.71 L316.54,81.28 L317.25,81.83 L317.95,82.35 L318.66,82.81 L319.37,83.19 L320.07,83.49 L320.78,83.72 L321.49,83.91 L322.19,84.06 L322.9,84.2 L323.61,84.06 L324.31,83.91 L325.02,83.72 L325.73,83.49 L326.43,83.19 L327.14,82.81 L327.85,82.35 L328.55,81.83 L329.26,81.28 L329.97,80.71 L330.67,80.15 L331.38,79.64 L332.09,79.22 L332.79,78.96 L333.5,78.91 L334.2,79.08 L334.91,79.5 L335.62,80.14 L336.32,81 L337.03,82.08 L337.74,83.36 L338.44,84.81 L339.15,86.43 L339.86,88.19 L340.56,90.06 L341.27,91.97 L341.98,93.84 L342.68,95.57 L343.39,97.09 L344.1,98.33 L344.8,99.26 L345.51,99.86 L346.22,100.1 L346.92,99.96 L347.63,99.48 L348.34,98.75 L349.04,97.84 L349.75,96.83 L350.46,95.79 L351.16,94.79 L351.87,93.87 L352.58,93.09 L353.28,92.49 L353.99,92.12 L354.7,92 L355.4,92.17 L356.11,92.59 L356.81,93.21 L357.52,94 L358.23,94.97 L358.93,96.16 L359.64,97.61 L360.35,99.34 L361.05,101.28 L361.76,103.37 L362.47,105.54 L363.17,107.6 L363.88,109.35 L364.59,110.56 L365.29,111.18 L366,111.5 L365.51,111.18 L366.21,110.56 L366.92,109.35 L367.63,107.6 L368.33,105.54 L369.04,103.37 L369.75,101.28 L370.45,99.34 L371.16,97.61 L371.87,96.16 L372.57,94.97 L373.28,94 L373.99,93.21 L374.69,92.59 L375.4,92.17 L376.1,92 L376.81,92.12 L377.52,92.49 L378.22,93.09 L378.93,93.87 L379.64,94.79 L380.34,95.79 L381.05,96.83 L381.76,97.84 L382.46,98.75 L383.17,99.48 L383.88,99.96 L384.58,100.1 L385.29,99.86 L386,99.26 L386.7,98.33 L387.41,97.09 L388.12,95.57 L388.82,93.84 L389.53,91.97 L390.24,90.06 L390.94,88.19 L391.65,86.43 L392.36,84.81 L393.06,83.36 L393.77,82.08 L394.48,81 L395.18,80.14 L395.89,79.5 L396.6,79.08 L397.3,78.91 L398.01,78.96 L398.71,79.22 L399.42,79.64 L400.13,80.15 L400.83,80.71 L401.54,81.28 L402.25,81.83 L402.95,82.35 L403.66,82.81 L404.37,83.19 L405.07,83.49 L405.78,83.72 L406.49,83.91 L407.19,84.06 L407.9,84.2 L408.61,84.06 L409.31,83.91 L410.02,83.72 L410.73,83.49 L411.43,83.19 L412.14,82.81 L412.85,82.35 L413.55,81.83 L414.26,81.28 L414.97,80.71 L415.67,80.15 L416.38,79.64 L417.09,79.22 L417.79,78.96 L418.5,78.91 L419.2,79.08 L419.91,79.5 L420.62,80.14 L421.32,81 L422.03,82.08 L422.74,83.36 L423.44,84.81 L424.15,86.43 L424.86,88.19 L425.56,90.06 L426.27,91.97 L426.98,93.84 L427.68,95.57 L428.39,97.09 L429.1,98.33 L429.8,99.26 L430.51,99.86 L431.22,100.1 L431.92,99.96 L432.63,99.48 L433.34,98.75 L434.04,97.84 L434.75,96.83 L435.46,95.79 L436.16,94.79 L436.87,93.87 L437.58,93.09 L438.28,92.49 L438.99,92.12 L439.7,92 L440.4,92.17 L441.11,92.59 L441.81,93.21 L442.52,94 L443.23,94.97 L443.93,96.16 L444.64,97.61 L445.35,99.34 L446.05,101.28 L446.76,103.37 L447.47,105.54 L448.17,107.6 L448.88,109.35 L449.59,110.56 L450.29,111.18 L451,111.5 L451,112.5 L279.8,112.5 Z" fill="#c0c0c0"/>
<path d="M287.6,111.9 L288.35,109.78 L289.11,108.02 L289.86,106.64 L290.62,105.41 L291.37,105.01 L292.13,105.32 L292.88,105.91 L293.64,106.68 L294.39,107.98 L295.15,109.76 L295.9,111.9 Z" fill="#fff"/>
<path d="M358.2,111.9 L357.45,109.78 L356.69,108.02 L355.94,106.64 L355.18,105.41 L354.43,105.01 L353.67,105.32 L352.92,105.91 L352.16,106.68 L351.41,107.98 L350.65,109.76 L349.9,111.9 Z" fill="#fff"/>
<path d="M310.2,111.9 L310.91,109.67 L311.61,107.85 L312.32,106.58 L313.02,105.56 L313.73,104.83 L314.43,104.46 L315.14,104.2 L315.84,103.99 L316.55,103.85 L317.26,103.8 L317.96,103.8 L318.67,103.8 L319.37,103.8 L320.08,103.8 L320.78,103.8 L321.49,103.8 L322.19,103.8 L322.9,103.8 L323.61,103.8 L324.31,103.8 L325.02,103.8 L325.72,103.8 L326.43,103.8 L327.13,103.8 L327.84,103.8 L328.54,103.8 L329.25,103.85 L329.96,103.99 L330.66,104.2 L331.37,104.46 L332.07,104.83 L332.78,105.56 L333.48,106.58 L334.19,107.85 L334.89,109.67 L335.6,111.9 Z" fill="#fff"/>
<path d="M372.6,111.9 L373.35,109.78 L374.11,108.02 L374.86,106.64 L375.62,105.41 L376.37,105.01 L377.13,105.32 L377.88,105.91 L378.64,106.68 L379.39,107.98 L380.15,109.76 L380.9,111.9 Z" fill="#fff"/>
<path d="M443.2,111.9 L442.45,109.78 L441.69,108.02 L440.94,106.64 L440.18,105.41 L439.43,105.01 L438.67,105.32 L437.92,105.91 L437.16,106.68 L436.41,107.98 L435.65,109.76 L434.9,111.9 Z" fill="#fff"/>
<path d="M395.2,111.9 L395.91,109.67 L396.61,107.85 L397.32,106.58 L398.02,105.56 L398.73,104.83 L399.43,104.46 L400.14,104.2 L400.84,103.99 L401.55,103.85 L402.26,103.8 L402.96,103.8 L403.67,103.8 L404.37,103.8 L405.08,103.8 L405.78,103.8 L406.49,103.8 L407.19,103.8 L407.9,103.8 L408.61,103.8 L409.31,103.8 L410.02,103.8 L410.72,103.8 L411.43,103.8 L412.13,103.8 L412.84,103.8 L413.54,103.8 L414.25,103.85 L414.96,103.99 L415.66,104.2 L416.37,104.46 L417.07,104.83 L417.78,105.56 L418.48,106.58 L419.19,107.85 L419.89,109.67 L420.6,111.9 Z" fill="#fff"/>
<path d="M279.8,32.44 L280.6,32.4 L281.4,32.51 L282.19,32.75 L282.99,33.12 L283.79,33.58 L284.59,34.11 L285.38,34.68 L286.18,35.24 L286.98,35.78 L287.78,36.25 L288.57,36.64 L289.37,36.91 L290.17,37.07 L290.97,37.11 L291.77,37.04 L292.56,36.87 L293.36,36.63 L294.16,36.33 L294.96,36.01 L295.75,35.71 L296.55,35.45 L297.35,35.25 L298.15,35.15 L298.94,35.15 L299.74,35.28 L300.54,35.52 L301.34,35.87 L302.13,36.32 L302.93,36.86 L303.73,37.46 L304.53,38.1 L305.33,38.74 L306.12,39.37 L306.92,39.97 L307.72,40.5 L308.52,40.96 L309.31,41.33 L310.11,41.61 L310.91,41.79 L311.71,41.89 L312.5,41.9 L313.3,41.84 L314.1,41.72 L314.9,41.56 L315.7,41.36 L316.49,41.15 L317.29,40.93 L318.09,40.73 L318.89,40.53 L319.68,40.36 L320.48,40.23 L321.28,40.13 L322.08,40.06 L322.87,40.04 L323.67,40.06 L324.47,40.12 L325.27,40.22 L326.07,40.35 L326.86,40.52 L327.66,40.71 L328.46,40.92 L329.26,41.14 L330.05,41.35 L330.85,41.55 L331.65,41.71 L332.45,41.83 L333.24,41.9 L334.04,41.89 L334.84,41.8 L335.64,41.62 L336.43,41.35 L337.23,40.98 L338.03,40.53 L338.83,40 L339.63,39.41 L340.42,38.79 L341.22,38.14 L342.02,37.5 L342.82,36.9 L343.61,36.36 L344.41,35.9 L345.21,35.54 L346.01,35.29 L346.8,35.16 L347.6,35.15 L348.4,35.24 L349.2,35.43 L350,35.69 L350.79,35.99 L351.59,36.31 L352.39,36.61 L353.19,36.86 L353.98,37.03 L354.78,37.11 L355.58,37.08 L356.38,36.93 L357.17,36.66 L357.97,36.28 L358.77,35.81 L359.57,35.28 L360.37,34.71 L361.16,34.14 L361.96,33.61 L362.76,33.14 L363.56,32.77 L364.35,32.52 L365.15,32.41 L365.95,32.43 L366.75,32.6 L367.54,32.9 L368.34,33.31 L369.14,33.81 L369.94,34.36 L370.73,34.93 L371.53,35.48 L372.33,36 L373.13,36.43 L373.93,36.77 L374.72,37 L375.52,37.11 L376.32,37.1 L377.12,36.98 L377.91,36.77 L378.71,36.5 L379.51,36.19 L380.31,35.88 L381.1,35.59 L381.9,35.35 L382.7,35.19 L383.5,35.14 L384.3,35.19 L385.09,35.37 L385.89,35.66 L386.69,36.06 L387.49,36.55 L388.28,37.12 L389.08,37.74 L389.88,38.38 L390.68,39.02 L391.47,39.64 L392.27,40.21 L393.07,40.71 L393.87,41.13 L394.67,41.46 L395.46,41.7 L396.26,41.84 L397.06,41.9 L397.86,41.88 L398.65,41.79 L399.45,41.65 L400.25,41.48 L401.05,41.27 L401.84,41.06 L402.64,40.84 L403.44,40.64 L404.24,40.45 L405.03,40.3 L405.83,40.18 L406.63,40.09 L407.43,40.05 L408.23,40.04 L409.02,40.08 L409.82,40.16 L410.62,40.27 L411.42,40.42 L412.21,40.6 L413.01,40.8 L413.81,41.02 L414.61,41.23 L415.4,41.44 L416.2,41.62 L417,41.77 L417.8,41.87 L418.6,41.9 L419.39,41.86 L420.19,41.73 L420.99,41.51 L421.79,41.2 L422.58,40.79 L423.38,40.31 L424.18,39.75 L424.98,39.14 L425.77,38.5 L426.57,37.86 L427.37,37.23 L428.17,36.65 L428.97,36.14 L429.76,35.72 L430.56,35.41 L431.36,35.22 L432.16,35.14 L432.95,35.18 L433.75,35.32 L434.55,35.54 L435.35,35.82 L436.14,36.13 L436.94,36.45 L437.74,36.73 L438.54,36.95 L439.33,37.08 L440.13,37.11 L440.93,37.03 L441.73,36.82 L442.53,36.5 L443.32,36.08 L444.12,35.58 L444.92,35.03 L445.72,34.46 L446.51,33.9 L447.31,33.4 L448.11,32.97 L448.91,32.65 L449.7,32.45 L450.5,32.4 L451.3,32.49 L451.3,33.96 L450.5,33.85 L449.7,33.92 L448.91,34.16 L448.11,34.57 L447.31,35.11 L446.51,35.75 L445.72,36.45 L444.92,37.16 L444.12,37.84 L443.32,38.44 L442.53,38.94 L441.73,39.3 L440.93,39.5 L440.13,39.55 L439.33,39.45 L438.54,39.22 L437.74,38.88 L436.94,38.47 L436.14,38.03 L435.35,37.61 L434.55,37.25 L433.75,36.98 L432.95,36.85 L432.16,36.88 L431.36,37.08 L430.56,37.47 L429.76,38.03 L428.97,38.75 L428.17,39.6 L427.37,40.56 L426.57,41.59 L425.77,42.65 L424.98,43.7 L424.18,44.7 L423.38,45.61 L422.58,46.41 L421.79,47.08 L420.99,47.6 L420.19,47.96 L419.39,48.17 L418.6,48.23 L417.8,48.16 L417,47.98 L416.2,47.7 L415.4,47.34 L414.61,46.95 L413.81,46.53 L413.01,46.11 L412.21,45.72 L411.42,45.36 L410.62,45.06 L409.82,44.82 L409.02,44.66 L408.23,44.59 L407.43,44.6 L406.63,44.69 L405.83,44.86 L405.03,45.11 L404.24,45.42 L403.44,45.79 L402.64,46.19 L401.84,46.61 L401.05,47.02 L400.25,47.41 L399.45,47.75 L398.65,48.02 L397.86,48.19 L397.06,48.23 L396.26,48.15 L395.46,47.91 L394.67,47.52 L393.87,46.97 L393.07,46.28 L392.27,45.45 L391.47,44.52 L390.68,43.51 L389.88,42.46 L389.08,41.4 L388.28,40.38 L387.49,39.44 L386.69,38.6 L385.89,37.91 L385.09,37.38 L384.3,37.03 L383.5,36.86 L382.7,36.86 L381.9,37.02 L381.1,37.31 L380.31,37.68 L379.51,38.11 L378.71,38.54 L377.91,38.94 L377.12,39.27 L376.32,39.48 L375.52,39.56 L374.72,39.48 L373.93,39.24 L373.13,38.86 L372.33,38.34 L371.53,37.72 L370.73,37.03 L369.94,36.32 L369.14,35.63 L368.34,35 L367.54,34.48 L366.75,34.11 L365.95,33.89 L365.15,33.86 L364.35,34.01 L363.56,34.32 L362.76,34.79 L361.96,35.38 L361.16,36.06 L360.37,36.76 L359.57,37.47 L358.77,38.12 L357.97,38.68 L357.17,39.11 L356.38,39.41 L355.58,39.55 L354.78,39.53 L353.98,39.36 L353.19,39.08 L352.39,38.7 L351.59,38.27 L350.79,37.84 L350,37.44 L349.2,37.11 L348.4,36.91 L347.6,36.84 L346.8,36.95 L346.01,37.23 L345.21,37.69 L344.41,38.33 L343.61,39.11 L342.82,40.02 L342.02,41.01 L341.22,42.06 L340.42,43.12 L339.63,44.15 L338.83,45.11 L338.03,45.98 L337.23,46.72 L336.43,47.33 L335.64,47.78 L334.84,48.07 L334.04,48.22 L333.24,48.22 L332.45,48.09 L331.65,47.86 L330.85,47.55 L330.05,47.17 L329.26,46.77 L328.46,46.34 L327.66,45.93 L326.86,45.55 L326.07,45.22 L325.27,44.95 L324.47,44.74 L323.67,44.62 L322.87,44.58 L322.08,44.63 L321.28,44.75 L320.48,44.96 L319.68,45.24 L318.89,45.58 L318.09,45.96 L317.29,46.37 L316.49,46.79 L315.7,47.2 L314.9,47.57 L314.1,47.88 L313.3,48.1 L312.5,48.22 L311.71,48.21 L310.91,48.06 L310.11,47.75 L309.31,47.29 L308.52,46.68 L307.72,45.93 L306.92,45.05 L306.12,44.08 L305.33,43.05 L304.53,41.99 L303.73,40.95 L302.93,39.95 L302.13,39.05 L301.34,38.28 L300.54,37.66 L299.74,37.21 L298.94,36.94 L298.15,36.84 L297.35,36.92 L296.55,37.13 L295.75,37.46 L294.96,37.87 L294.16,38.3 L293.36,38.73 L292.56,39.1 L291.77,39.38 L290.97,39.53 L290.17,39.54 L289.37,39.39 L288.57,39.09 L287.78,38.64 L286.98,38.08 L286.18,37.42 L285.38,36.72 L284.59,36.01 L283.79,35.34 L282.99,34.76 L282.19,34.3 L281.4,33.99 L280.6,33.85 L279.8,33.9 Z" fill="#000" stroke="#000" stroke-width="0.4"/>
<rect x="279.7" y="7.2" width="171.6" height="104.3" fill="none" stroke="#111" stroke-width="1.25"/>
<line x1="276.7" y1="7.2" x2="279.7" y2="7.2" stroke="#111" stroke-width="1.1"/>
<line x1="278.1" y1="33.27" x2="279.7" y2="33.27" stroke="#111" stroke-width="1.1"/>
<line x1="276.7" y1="59.35" x2="279.7" y2="59.35" stroke="#111" stroke-width="1.1"/>
<line x1="278.1" y1="85.42" x2="279.7" y2="85.42" stroke="#111" stroke-width="1.1"/>
<line x1="276.7" y1="111.5" x2="279.7" y2="111.5" stroke="#111" stroke-width="1.1"/>
<line x1="279.7" y1="111.5" x2="279.7" y2="113.9" stroke="#111" stroke-width="1.1"/>
<line x1="322.6" y1="111.5" x2="322.6" y2="113.3" stroke="#111" stroke-width="1.1"/>
<line x1="365.5" y1="111.5" x2="365.5" y2="113.3" stroke="#111" stroke-width="1.1"/>
<line x1="408.4" y1="111.5" x2="408.4" y2="113.3" stroke="#111" stroke-width="1.1"/>
<line x1="451.3" y1="111.5" x2="451.3" y2="113.9" stroke="#111" stroke-width="1.1"/>
<text x="277.3" y="12.6" font-size="14.5" text-anchor="end" fill="#000">-0.7</text>
<text x="277.3" y="64.3" font-size="14.5" text-anchor="end" fill="#000">-1.1</text>
<text x="277.3" y="116.6" font-size="14.5" text-anchor="end" fill="#000">-1.5</text>
<text x="0" y="0" font-size="15" text-anchor="middle" transform="translate(245.7,62.1) rotate(-90)">β</text>
<text x="281.3" y="19.6" font-size="15" text-anchor="start" fill="#000">(iii)</text>
<g clip-path="url(#clipiv)">
<path d="M277,349.64 L279,360.4 L280.8,343.73 L283,347.67 L284.1,342.83 L285.9,331 L288.1,336.83 L291,326.95 L292.5,335.09 L294.3,344.68 L296.2,340.75 L298.7,360.4 L300.9,345.44 L303.1,353.05 L306,333.9 L308.2,338 L311.1,325.48 L312.9,334.04 L314.8,341.35 L316.2,338.7 L319.1,360.4 L321.3,344.68 L323.5,360.4 L326.5,337.16 L328.2,341.97 L329.7,338.17 L331.4,324.82 L332.9,333.46 L334.6,338.7 L336.4,333.18 L339,353.59 L341.4,344.68 L343.7,360.4 L346.6,340.75 L348.4,343.96 L351.3,326.6 L354.2,336.66 L356.5,330.35 L359.5,347.67 L361.5,342.61 L363.8,360.4 L366.6,343.73 L368.4,348.61 L371.7,329.09 L373.9,336.18 L376.8,326.15 L379.7,342.83 L381.5,339.98 L384.5,360.4 L387,345.44 L388.8,353.05 L392.1,333.46 L393.6,338 L396.9,324.82 L399.8,341.35 L402,338 L404.5,360.4 L406.7,346.51 L409.1,360.4 L412,337.32 L414,339.8 L416.8,324.82 L419.7,338 L421.9,333.46 L424.8,353.05 L427,345.44 L429.2,360.4 L432.1,340.75 L433.9,343.73 L437.2,326.95 L439.8,337.32 L442,329.97 L445.3,350 L447.4,342.83 L448.9,360.4 L451,351.61 L451,360.6 L448.9,360.6 L447.4,360.6 L445.3,360.6 L442,353.8 L439.8,357 L437.2,353.8 L433.9,360.6 L432.1,359.85 L429.2,360.6 L427,360.6 L424.8,360.6 L421.9,353.8 L419.7,357.6 L416.8,353.8 L414,359.1 L412,357 L409.1,360.6 L406.7,360.6 L404.5,360.6 L402,357.6 L399.8,360.3 L396.9,353.8 L393.6,357.6 L392.1,353.8 L388.8,360.6 L387,360.6 L384.5,360.6 L381.5,359.25 L379.7,360.6 L376.8,353.8 L373.9,355.95 L371.7,353.8 L368.4,360.6 L366.6,360.6 L363.8,360.6 L361.5,360.6 L359.5,360.6 L356.5,353.8 L354.2,356.4 L351.3,353.8 L348.4,360.6 L346.6,359.85 L343.7,360.6 L341.4,360.6 L339,360.6 L336.4,353.8 L334.6,358.2 L332.9,353.8 L331.4,353.8 L329.7,357.75 L328.2,360.6 L326.5,356.85 L323.5,360.6 L321.3,360.6 L319.1,360.6 L316.2,358.2 L314.8,360.3 L312.9,353.85 L311.1,353.8 L308.2,357.6 L306,353.8 L303.1,360.6 L300.9,360.6 L298.7,360.6 L296.2,359.85 L294.3,360.6 L292.5,354.9 L291,353.8 L288.1,356.55 L285.9,353.8 L284.1,360.6 L283,360.6 L280.8,360.6 L279,360.6 L277,360.6 Z" fill="#c0c0c0"/>
<path d="M277,284.5 L279,282.9 L280.8,286.6 L283,285.1 L284.1,287 L285.9,294.2 L288.1,290.2 L291,297.5 L292.5,291.3 L294.3,286.2 L296.2,288 L298.7,282.6 L300.9,285.9 L303.1,283.7 L306,292.1 L308.2,289.5 L311.1,298.8 L312.9,292 L314.8,287.7 L316.2,289.1 L319.1,282.9 L321.3,286.2 L323.5,282.9 L326.5,290 L328.2,287.4 L329.7,289.4 L331.4,299.4 L332.9,292.4 L334.6,289.1 L336.4,292.6 L339,283.6 L341.4,286.2 L343.7,282.4 L346.6,288 L348.4,286.5 L351.3,297.8 L354.2,290.3 L356.5,294.7 L359.5,285.1 L361.5,287.1 L363.8,282.7 L366.6,286.6 L368.4,284.8 L371.7,295.7 L373.9,290.6 L376.8,298.2 L379.7,287 L381.5,288.4 L384.5,282.6 L387,285.9 L388.8,283.7 L392.1,292.4 L393.6,289.5 L396.9,299.4 L399.8,287.7 L402,289.5 L404.5,282.9 L406.7,285.5 L409.1,282.9 L412,289.9 L414,288.5 L416.8,299.4 L419.7,289.5 L421.9,292.4 L424.8,283.7 L427,285.9 L429.2,282.2 L432.1,288 L433.9,286.6 L437.2,297.5 L439.8,289.9 L442,295 L445.3,284.4 L447.4,287 L448.9,282.9 L451,284" fill="none" stroke="#000" stroke-width="1.0" stroke-linejoin="round"/>
<g stroke="#000" stroke-linecap="round"><line x1="284.1" y1="287" x2="285.9" y2="294.2" stroke-width="1.87"/><line x1="285.9" y1="294.2" x2="288.1" y2="290.2" stroke-width="1.87"/><line x1="288.1" y1="290.2" x2="291" y2="297.5" stroke-width="2.3"/><line x1="291" y1="297.5" x2="292.5" y2="291.3" stroke-width="2.3"/><line x1="292.5" y1="291.3" x2="294.3" y2="286.2" stroke-width="1.33"/><line x1="303.1" y1="283.7" x2="306" y2="292.1" stroke-width="1.48"/><line x1="306" y1="292.1" x2="308.2" y2="289.5" stroke-width="1.48"/><line x1="308.2" y1="289.5" x2="311.1" y2="298.8" stroke-width="2.3"/><line x1="311.1" y1="298.8" x2="312.9" y2="292" stroke-width="2.3"/><line x1="312.9" y1="292" x2="314.8" y2="287.7" stroke-width="1.46"/><line x1="323.5" y1="282.9" x2="326.5" y2="290" stroke-width="1.09"/><line x1="326.5" y1="290" x2="328.2" y2="287.4" stroke-width="1.09"/><line x1="329.7" y1="289.4" x2="331.4" y2="299.4" stroke-width="2.3"/><line x1="331.4" y1="299.4" x2="332.9" y2="292.4" stroke-width="2.3"/><line x1="332.9" y1="292.4" x2="334.6" y2="289.1" stroke-width="1.54"/><line x1="334.6" y1="289.1" x2="336.4" y2="292.6" stroke-width="1.58"/><line x1="336.4" y1="292.6" x2="339" y2="283.6" stroke-width="1.58"/><line x1="348.4" y1="286.5" x2="351.3" y2="297.8" stroke-width="2.3"/><line x1="351.3" y1="297.8" x2="354.2" y2="290.3" stroke-width="2.3"/><line x1="354.2" y1="290.3" x2="356.5" y2="294.7" stroke-width="1.97"/><line x1="356.5" y1="294.7" x2="359.5" y2="285.1" stroke-width="1.97"/><line x1="368.4" y1="284.8" x2="371.7" y2="295.7" stroke-width="2.15"/><line x1="371.7" y1="295.7" x2="373.9" y2="290.6" stroke-width="2.15"/><line x1="373.9" y1="290.6" x2="376.8" y2="298.2" stroke-width="2.3"/><line x1="376.8" y1="298.2" x2="379.7" y2="287" stroke-width="2.3"/><line x1="388.8" y1="283.7" x2="392.1" y2="292.4" stroke-width="1.54"/><line x1="392.1" y1="292.4" x2="393.6" y2="289.5" stroke-width="1.54"/><line x1="393.6" y1="289.5" x2="396.9" y2="299.4" stroke-width="2.3"/><line x1="396.9" y1="299.4" x2="399.8" y2="287.7" stroke-width="2.3"/><line x1="409.1" y1="282.9" x2="412" y2="289.9" stroke-width="1.07"/><line x1="412" y1="289.9" x2="414" y2="288.5" stroke-width="1.07"/><line x1="414" y1="288.5" x2="416.8" y2="299.4" stroke-width="2.3"/><line x1="416.8" y1="299.4" x2="419.7" y2="289.5" stroke-width="2.3"/><line x1="419.7" y1="289.5" x2="421.9" y2="292.4" stroke-width="1.54"/><line x1="421.9" y1="292.4" x2="424.8" y2="283.7" stroke-width="1.54"/><line x1="433.9" y1="286.6" x2="437.2" y2="297.5" stroke-width="2.3"/><line x1="437.2" y1="297.5" x2="439.8" y2="289.9" stroke-width="2.3"/><line x1="439.8" y1="289.9" x2="442" y2="295" stroke-width="2.02"/><line x1="442" y1="295" x2="445.3" y2="284.4" stroke-width="2.02"/></g>
</g>
<rect x="278.4" y="256.2" width="171.2" height="104.2" fill="none" stroke="#111" stroke-width="1.25"/>
<line x1="275.4" y1="256.2" x2="278.4" y2="256.2" stroke="#111" stroke-width="1.1"/>
<line x1="276.8" y1="282.25" x2="278.4" y2="282.25" stroke="#111" stroke-width="1.1"/>
<line x1="275.4" y1="308.3" x2="278.4" y2="308.3" stroke="#111" stroke-width="1.1"/>
<line x1="276.8" y1="334.35" x2="278.4" y2="334.35" stroke="#111" stroke-width="1.1"/>
<line x1="275.4" y1="360.4" x2="278.4" y2="360.4" stroke="#111" stroke-width="1.1"/>
<line x1="278.4" y1="360.4" x2="278.4" y2="362.8" stroke="#111" stroke-width="1.1"/>
<line x1="321.2" y1="360.4" x2="321.2" y2="362.2" stroke="#111" stroke-width="1.1"/>
<line x1="364" y1="360.4" x2="364" y2="362.2" stroke="#111" stroke-width="1.1"/>
<line x1="406.8" y1="360.4" x2="406.8" y2="362.2" stroke="#111" stroke-width="1.1"/>
<line x1="449.6" y1="360.4" x2="449.6" y2="362.8" stroke="#111" stroke-width="1.1"/>
<text x="275" y="261.7" font-size="14.5" text-anchor="end" fill="#000">-0.7</text>
<text x="275" y="313.2" font-size="14.5" text-anchor="end" fill="#000">-1.1</text>
<text x="275" y="365.4" font-size="14.5" text-anchor="end" fill="#000">-1.5</text>
<text x="0" y="0" font-size="15" text-anchor="middle" transform="translate(244.7,311) rotate(-90)">β</text>
<text x="280.6" y="269.2" font-size="15" text-anchor="start" fill="#000">(iv)</text>
<rect x="40.8" y="118" width="173.2" height="105.7" fill="#000"/>
<g clip-path="url(#hci)">
<path d="M40.8,170.8 L45.89,170.4 L50.99,169.51 L56.08,168.84 L61.18,168.13 L66.27,167.38 L71.36,166.59 L76.46,165.72 L81.55,164.76 L86.65,163.73 L91.74,162.64 L96.84,161.47 L101.93,160.22 L107.02,158.92 L112.12,157.53 L117.21,155.96 L122.31,154.19 L127.4,152.22 L132.49,150.15 L137.59,148.17 L142.68,146.39 L147.78,144.86 L152.87,143.54 L157.96,142.45 L163.06,141.57 L168.15,140.83 L173.25,140.18 L178.34,139.58 L183.44,139.04 L188.53,138.55 L193.62,138.1 L198.72,137.68 L203.81,137.31 L208.91,136.97 L214,136.72 L214,204.88 L208.91,204.63 L203.81,204.29 L198.72,203.92 L193.62,203.5 L188.53,203.05 L183.44,202.56 L178.34,202.02 L173.25,201.42 L168.15,200.77 L163.06,200.03 L157.96,199.15 L152.87,198.06 L147.78,196.74 L142.68,195.21 L137.59,193.43 L132.49,191.45 L127.4,189.38 L122.31,187.41 L117.21,185.64 L112.12,184.07 L107.02,182.68 L101.93,181.38 L96.84,180.13 L91.74,178.96 L86.65,177.87 L81.55,176.84 L76.46,175.88 L71.36,175.01 L66.27,174.22 L61.18,173.47 L56.08,172.76 L50.99,172.09 L45.89,171.2 L40.8,170.8 Z" fill="#0c0000"/>
<g stroke="#8a0c08" stroke-width="0.9" filter="url(#blur05)"><use href="#envi" transform="translate(0,170.8) scale(1,-0.1)" opacity="0.52"/><use href="#envi" transform="translate(0,170.8) scale(1,0.1)" opacity="0.52"/><use href="#envi" transform="translate(0,170.8) scale(1,-0.2)" opacity="0.59"/><use href="#envi" transform="translate(0,170.8) scale(1,0.2)" opacity="0.59"/><use href="#envi" transform="translate(0,170.8) scale(1,-0.3)" opacity="0.66"/><use href="#envi" transform="translate(0,170.8) scale(1,0.3)" opacity="0.66"/><use href="#envi" transform="translate(0,170.8) scale(1,-0.4)" opacity="0.73"/><use href="#envi" transform="translate(0,170.8) scale(1,0.4)" opacity="0.73"/><use href="#envi" transform="translate(0,170.8) scale(1,-0.5)" opacity="0.8"/><use href="#envi" transform="translate(0,170.8) scale(1,0.5)" opacity="0.8"/><use href="#envi" transform="translate(0,170.8) scale(1,-0.6)" opacity="0.87"/><use href="#envi" transform="translate(0,170.8) scale(1,0.6)" opacity="0.87"/><use href="#envi" transform="translate(0,170.8) scale(1,-0.7)" opacity="0.94"/><use href="#envi" transform="translate(0,170.8) scale(1,0.7)" opacity="0.94"/><use href="#envi" transform="translate(0,170.8) scale(1,-0.8)" opacity="1"/><use href="#envi" transform="translate(0,170.8) scale(1,0.8)" opacity="1"/></g>
<path d="M40.8,170.8 L45.89,171.15 L50.99,171.91 L56.08,172.49 L61.18,173.1 L66.27,173.74 L71.36,174.42 L76.46,175.17 L81.55,176 L86.65,176.88 L91.74,177.82 L96.84,178.83 L101.93,179.9 L107.02,181.01 L112.12,182.21 L117.21,183.56 L122.31,185.09 L127.4,186.78 L132.49,188.56 L137.59,190.26 L142.68,191.79 L147.78,193.11 L152.87,194.24 L157.96,195.18 L163.06,195.94 L168.15,196.57 L173.25,197.13 L178.34,197.65 L183.44,198.12 L188.53,198.53 L193.62,198.92 L198.72,199.28 L203.81,199.6 L208.91,199.89 L214,200.11 L214,206.58 L208.91,206.32 L203.81,205.97 L198.72,205.57 L193.62,205.14 L188.53,204.66 L183.44,204.15 L178.34,203.58 L173.25,202.95 L168.15,202.27 L163.06,201.5 L157.96,200.56 L152.87,199.42 L147.78,198.04 L142.68,196.43 L137.59,194.56 L132.49,192.48 L127.4,190.31 L122.31,188.24 L117.21,186.38 L112.12,184.73 L107.02,183.27 L101.93,181.91 L96.84,180.6 L91.74,179.37 L86.65,178.22 L81.55,177.14 L76.46,176.13 L71.36,175.22 L66.27,174.39 L61.18,173.61 L56.08,172.86 L50.99,172.16 L45.89,171.22 L40.8,170.8 Z" fill="url(#ogi)" filter="url(#blur1)"/>
<use href="#envi" transform="translate(0,170.8) scale(1,-0.96)" stroke="url(#ogi)" stroke-width="1.2" filter="url(#blur05)"/>
<path d="M40.8,170.8 L45.89,170.45 L50.99,169.69 L56.08,169.11 L61.18,168.5 L66.27,167.86 L71.36,167.18 L76.46,166.43 L81.55,165.6 L86.65,164.72 L91.74,163.78 L96.84,162.77 L101.93,161.7 L107.02,160.59 L112.12,159.39 L117.21,158.04 L122.31,156.51 L127.4,154.82 L132.49,153.04 L137.59,151.34 L142.68,149.81 L147.78,148.49 L152.87,147.36 L157.96,146.42 L163.06,145.66 L168.15,145.03 L173.25,144.47 L178.34,143.95 L183.44,143.48 L188.53,143.07 L193.62,142.68 L198.72,142.32 L203.81,142 L208.91,141.71 L214,141.49 L214,135.02 L208.91,135.28 L203.81,135.63 L198.72,136.03 L193.62,136.46 L188.53,136.94 L183.44,137.45 L178.34,138.02 L173.25,138.65 L168.15,139.33 L163.06,140.1 L157.96,141.04 L152.87,142.18 L147.78,143.56 L142.68,145.17 L137.59,147.04 L132.49,149.12 L127.4,151.29 L122.31,153.36 L117.21,155.22 L112.12,156.87 L107.02,158.33 L101.93,159.69 L96.84,161 L91.74,162.23 L86.65,163.38 L81.55,164.46 L76.46,165.47 L71.36,166.38 L66.27,167.21 L61.18,167.99 L56.08,168.74 L50.99,169.44 L45.89,170.38 L40.8,170.8 Z" fill="url(#ogi)" filter="url(#blur1)"/>
<use href="#envi" transform="translate(0,170.8) scale(1,0.96)" stroke="url(#ogi)" stroke-width="1.2" filter="url(#blur05)"/>
<use href="#envi" transform="translate(0,170.8) scale(1,-0.6)" stroke="url(#cgi)" stroke-width="2.0" filter="url(#blur1)"/>
<use href="#envi" transform="translate(0,170.8) scale(1,0.6)" stroke="url(#cgi)" stroke-width="2.0" filter="url(#blur1)"/>
<line x1="40.8" y1="170.5" x2="214" y2="170.5" stroke="#c0b2b0" stroke-width="1.3" stroke-dasharray="2.49 1.81" stroke-dashoffset="-1.81"/>
<line x1="40.8" y1="171.6" x2="214" y2="171.6" stroke="#28e028" stroke-width="2.0" stroke-dasharray="1.81 2.49"/>
<line x1="126.6" y1="118" x2="126.6" y2="223.7" stroke="#ee10ee" stroke-width="1.15" stroke-dasharray="3.6 2"/>
</g>
<rect x="41.5" y="365.1" width="173.4" height="106.4" fill="#000"/>
<g clip-path="url(#hcii)">
<path d="M41.5,418.5 L46.6,418.15 L51.7,417.38 L56.8,416.8 L61.9,416.18 L67,415.52 L72.1,414.82 L77.2,414.07 L82.3,413.24 L87.4,412.35 L92.5,411.41 L97.6,410.39 L102.7,409.29 L107.8,408.07 L112.9,406.59 L118,404.71 L123.1,402.49 L128.2,400.16 L133.3,398 L138.4,396.04 L143.5,394.28 L148.6,392.71 L153.7,391.35 L158.8,390.2 L163.9,389.25 L169,388.46 L174.1,387.75 L179.2,387.1 L184.3,386.54 L189.4,386.05 L194.5,385.6 L199.6,385.18 L204.7,384.81 L209.8,384.47 L214.9,384.22 L214.9,452.78 L209.8,452.53 L204.7,452.19 L199.6,451.82 L194.5,451.4 L189.4,450.95 L184.3,450.46 L179.2,449.9 L174.1,449.25 L169,448.54 L163.9,447.75 L158.8,446.8 L153.7,445.65 L148.6,444.29 L143.5,442.72 L138.4,440.96 L133.3,439 L128.2,436.84 L123.1,434.51 L118,432.29 L112.9,430.41 L107.8,428.93 L102.7,427.71 L97.6,426.61 L92.5,425.59 L87.4,424.65 L82.3,423.76 L77.2,422.93 L72.1,422.18 L67,421.48 L61.9,420.82 L56.8,420.2 L51.7,419.62 L46.6,418.85 L41.5,418.5 Z" fill="#0c0000"/>
<g stroke="#8a0c08" stroke-width="0.9" filter="url(#blur05)"><use href="#envii" transform="translate(0,418.5) scale(1,-0.09)" opacity="0.51"/><use href="#envii" transform="translate(0,418.5) scale(1,0.09)" opacity="0.51"/><use href="#envii" transform="translate(0,418.5) scale(1,-0.18)" opacity="0.57"/><use href="#envii" transform="translate(0,418.5) scale(1,0.18)" opacity="0.57"/><use href="#envii" transform="translate(0,418.5) scale(1,-0.27)" opacity="0.64"/><use href="#envii" transform="translate(0,418.5) scale(1,0.27)" opacity="0.64"/><use href="#envii" transform="translate(0,418.5) scale(1,-0.36)" opacity="0.7"/><use href="#envii" transform="translate(0,418.5) scale(1,0.36)" opacity="0.7"/><use href="#envii" transform="translate(0,418.5) scale(1,-0.44)" opacity="0.76"/><use href="#envii" transform="translate(0,418.5) scale(1,0.44)" opacity="0.76"/><use href="#envii" transform="translate(0,418.5) scale(1,-0.53)" opacity="0.82"/><use href="#envii" transform="translate(0,418.5) scale(1,0.53)" opacity="0.82"/><use href="#envii" transform="translate(0,418.5) scale(1,-0.62)" opacity="0.89"/><use href="#envii" transform="translate(0,418.5) scale(1,0.62)" opacity="0.89"/><use href="#envii" transform="translate(0,418.5) scale(1,-0.71)" opacity="0.95"/><use href="#envii" transform="translate(0,418.5) scale(1,0.71)" opacity="0.95"/><use href="#envii" transform="translate(0,418.5) scale(1,-0.8)" opacity="1"/><use href="#envii" transform="translate(0,418.5) scale(1,0.8)" opacity="1"/></g>
<path d="M41.5,418.5 L46.6,418.8 L51.7,419.46 L56.8,419.96 L61.9,420.5 L67,421.06 L72.1,421.66 L77.2,422.31 L82.3,423.03 L87.4,423.79 L92.5,424.59 L97.6,425.48 L102.7,426.42 L107.8,427.47 L112.9,428.74 L118,430.36 L123.1,432.27 L128.2,434.27 L133.3,436.13 L138.4,437.82 L143.5,439.33 L148.6,440.68 L153.7,441.85 L158.8,442.84 L163.9,443.65 L169,444.33 L174.1,444.94 L179.2,445.5 L184.3,445.98 L189.4,446.4 L194.5,446.8 L199.6,447.15 L204.7,447.48 L209.8,447.76 L214.9,447.98 L214.9,454.49 L209.8,454.23 L204.7,453.88 L199.6,453.48 L194.5,453.05 L189.4,452.57 L184.3,452.05 L179.2,451.47 L174.1,450.78 L169,450.04 L163.9,449.21 L158.8,448.21 L153.7,447.01 L148.6,445.58 L143.5,443.93 L138.4,442.08 L133.3,440.03 L128.2,437.76 L123.1,435.31 L118,432.98 L112.9,431.01 L107.8,429.45 L102.7,428.17 L97.6,427.02 L92.5,425.94 L87.4,424.95 L82.3,424.03 L77.2,423.15 L72.1,422.36 L67,421.63 L61.9,420.94 L56.8,420.29 L51.7,419.67 L46.6,418.86 L41.5,418.5 Z" fill="url(#ogii)" filter="url(#blur1)"/>
<use href="#envii" transform="translate(0,418.5) scale(1,-0.96)" stroke="url(#ogii)" stroke-width="1.2" filter="url(#blur05)"/>
<path d="M41.5,418.5 L46.6,418.2 L51.7,417.54 L56.8,417.04 L61.9,416.5 L67,415.94 L72.1,415.34 L77.2,414.69 L82.3,413.97 L87.4,413.21 L92.5,412.41 L97.6,411.52 L102.7,410.58 L107.8,409.53 L112.9,408.26 L118,406.64 L123.1,404.73 L128.2,402.73 L133.3,400.87 L138.4,399.18 L143.5,397.67 L148.6,396.32 L153.7,395.15 L158.8,394.16 L163.9,393.35 L169,392.67 L174.1,392.06 L179.2,391.5 L184.3,391.02 L189.4,390.6 L194.5,390.2 L199.6,389.85 L204.7,389.52 L209.8,389.24 L214.9,389.02 L214.9,382.51 L209.8,382.77 L204.7,383.12 L199.6,383.52 L194.5,383.95 L189.4,384.43 L184.3,384.95 L179.2,385.53 L174.1,386.22 L169,386.96 L163.9,387.79 L158.8,388.79 L153.7,389.99 L148.6,391.42 L143.5,393.07 L138.4,394.92 L133.3,396.97 L128.2,399.24 L123.1,401.69 L118,404.02 L112.9,405.99 L107.8,407.55 L102.7,408.83 L97.6,409.98 L92.5,411.06 L87.4,412.05 L82.3,412.97 L77.2,413.85 L72.1,414.64 L67,415.37 L61.9,416.06 L56.8,416.71 L51.7,417.33 L46.6,418.14 L41.5,418.5 Z" fill="url(#ogii)" filter="url(#blur1)"/>
<use href="#envii" transform="translate(0,418.5) scale(1,0.96)" stroke="url(#ogii)" stroke-width="1.2" filter="url(#blur05)"/>
<use href="#envii" transform="translate(0,418.5) scale(1,-0.6)" stroke="url(#cgii)" stroke-width="2.0" filter="url(#blur1)"/>
<use href="#envii" transform="translate(0,418.5) scale(1,0.6)" stroke="url(#cgii)" stroke-width="2.0" filter="url(#blur1)"/>
<line x1="41.5" y1="418.2" x2="214.9" y2="418.2" stroke="#c0b2b0" stroke-width="1.3" stroke-dasharray="2.49 1.81" stroke-dashoffset="-1.81"/>
<line x1="41.5" y1="419.3" x2="214.9" y2="419.3" stroke="#28e028" stroke-width="2.0" stroke-dasharray="1.81 2.49"/>
<line x1="128.1" y1="365.1" x2="128.1" y2="471.5" stroke="#ee10ee" stroke-width="1.15" stroke-dasharray="3.6 2"/>
</g>
<rect x="278.15" y="116.35" width="173.75" height="105.55" fill="#000"/>
<g clip-path="url(#hciii)">
<path d="M278.15,170.4 L283.26,169.84 L288.37,168.48 L293.48,167.24 L298.59,165.79 L303.7,164.14 L308.81,162.31 L313.92,160.33 L319.03,158.31 L324.14,156.36 L329.25,154.58 L334.36,152.96 L339.47,151.55 L344.58,150.32 L349.69,149.34 L354.8,148.58 L359.91,148.03 L365.02,147.58 L370.14,147.22 L375.25,146.93 L380.36,146.61 L385.47,145.98 L390.58,144.76 L395.69,143.1 L400.8,141.21 L405.91,139.22 L411.02,137.22 L416.13,135.24 L421.24,133.34 L426.35,131.66 L431.46,130.27 L436.57,129.2 L441.68,128.35 L446.79,127.66 L451.9,127.21 L451.9,213.59 L446.79,213.14 L441.68,212.45 L436.57,211.6 L431.46,210.53 L426.35,209.14 L421.24,207.46 L416.13,205.56 L411.02,203.58 L405.91,201.58 L400.8,199.59 L395.69,197.7 L390.58,196.04 L385.47,194.82 L380.36,194.19 L375.25,193.87 L370.14,193.58 L365.02,193.22 L359.91,192.77 L354.8,192.22 L349.69,191.46 L344.58,190.48 L339.47,189.25 L334.36,187.84 L329.25,186.22 L324.14,184.44 L319.03,182.49 L313.92,180.47 L308.81,178.49 L303.7,176.66 L298.59,175.01 L293.48,173.56 L288.37,172.32 L283.26,170.96 L278.15,170.4 Z" fill="#120000"/>
<g stroke="#5c0605" stroke-width="0.7" filter="url(#blur05)"><use href="#enviii" transform="translate(0,170.4) scale(1,-0.04)" opacity="0.48"/><use href="#enviii" transform="translate(0,170.4) scale(1,0.04)" opacity="0.48"/><use href="#enviii" transform="translate(0,170.4) scale(1,-0.08)" opacity="0.51"/><use href="#enviii" transform="translate(0,170.4) scale(1,0.08)" opacity="0.51"/><use href="#enviii" transform="translate(0,170.4) scale(1,-0.13)" opacity="0.54"/><use href="#enviii" transform="translate(0,170.4) scale(1,0.13)" opacity="0.54"/><use href="#enviii" transform="translate(0,170.4) scale(1,-0.17)" opacity="0.57"/><use href="#enviii" transform="translate(0,170.4) scale(1,0.17)" opacity="0.57"/><use href="#enviii" transform="translate(0,170.4) scale(1,-0.21)" opacity="0.6"/><use href="#enviii" transform="translate(0,170.4) scale(1,0.21)" opacity="0.6"/><use href="#enviii" transform="translate(0,170.4) scale(1,-0.25)" opacity="0.63"/><use href="#enviii" transform="translate(0,170.4) scale(1,0.25)" opacity="0.63"/><use href="#enviii" transform="translate(0,170.4) scale(1,-0.29)" opacity="0.66"/><use href="#enviii" transform="translate(0,170.4) scale(1,0.29)" opacity="0.66"/><use href="#enviii" transform="translate(0,170.4) scale(1,-0.34)" opacity="0.68"/><use href="#enviii" transform="translate(0,170.4) scale(1,0.34)" opacity="0.68"/><use href="#enviii" transform="translate(0,170.4) scale(1,-0.38)" opacity="0.71"/><use href="#enviii" transform="translate(0,170.4) scale(1,0.38)" opacity="0.71"/><use href="#enviii" transform="translate(0,170.4) scale(1,-0.42)" opacity="0.74"/><use href="#enviii" transform="translate(0,170.4) scale(1,0.42)" opacity="0.74"/><use href="#enviii" transform="translate(0,170.4) scale(1,-0.46)" opacity="0.77"/><use href="#enviii" transform="translate(0,170.4) scale(1,0.46)" opacity="0.77"/><use href="#enviii" transform="translate(0,170.4) scale(1,-0.5)" opacity="0.8"/><use href="#enviii" transform="translate(0,170.4) scale(1,0.5)" opacity="0.8"/><use href="#enviii" transform="translate(0,170.4) scale(1,-0.54)" opacity="0.83"/><use href="#enviii" transform="translate(0,170.4) scale(1,0.54)" opacity="0.83"/><use href="#enviii" transform="translate(0,170.4) scale(1,-0.59)" opacity="0.86"/><use href="#enviii" transform="translate(0,170.4) scale(1,0.59)" opacity="0.86"/><use href="#enviii" transform="translate(0,170.4) scale(1,-0.63)" opacity="0.89"/><use href="#enviii" transform="translate(0,170.4) scale(1,0.63)" opacity="0.89"/><use href="#enviii" transform="translate(0,170.4) scale(1,-0.67)" opacity="0.92"/><use href="#enviii" transform="translate(0,170.4) scale(1,0.67)" opacity="0.92"/><use href="#enviii" transform="translate(0,170.4) scale(1,-0.71)" opacity="0.95"/><use href="#enviii" transform="translate(0,170.4) scale(1,0.71)" opacity="0.95"/><use href="#enviii" transform="translate(0,170.4) scale(1,-0.75)" opacity="0.98"/><use href="#enviii" transform="translate(0,170.4) scale(1,0.75)" opacity="0.98"/><use href="#enviii" transform="translate(0,170.4) scale(1,-0.8)" opacity="1"/><use href="#enviii" transform="translate(0,170.4) scale(1,0.8)" opacity="1"/><use href="#enviii" transform="translate(0,170.4) scale(1,-0.84)" opacity="1"/><use href="#enviii" transform="translate(0,170.4) scale(1,0.84)" opacity="1"/><use href="#enviii" transform="translate(0,170.4) scale(1,-0.88)" opacity="1"/><use href="#enviii" transform="translate(0,170.4) scale(1,0.88)" opacity="1"/></g>
<path d="M278.15,170.4 L283.26,170.89 L288.37,172.09 L293.48,173.18 L298.59,174.46 L303.7,175.91 L308.81,177.52 L313.92,179.26 L319.03,181.04 L324.14,182.75 L329.25,184.32 L334.36,185.74 L339.47,186.99 L344.58,188.07 L349.69,188.93 L354.8,189.6 L359.91,190.09 L365.02,190.49 L370.14,190.8 L375.25,191.06 L380.36,191.34 L385.47,191.89 L390.58,192.96 L395.69,194.43 L400.8,196.09 L405.91,197.84 L411.02,199.6 L416.13,201.34 L421.24,203.02 L426.35,204.5 L431.46,205.71 L436.57,206.65 L441.68,207.41 L446.79,208.01 L451.9,208.4 L451.9,213.59 L446.79,213.14 L441.68,212.45 L436.57,211.6 L431.46,210.53 L426.35,209.14 L421.24,207.46 L416.13,205.56 L411.02,203.58 L405.91,201.58 L400.8,199.59 L395.69,197.7 L390.58,196.04 L385.47,194.82 L380.36,194.19 L375.25,193.87 L370.14,193.58 L365.02,193.22 L359.91,192.77 L354.8,192.22 L349.69,191.46 L344.58,190.48 L339.47,189.25 L334.36,187.84 L329.25,186.22 L324.14,184.44 L319.03,182.49 L313.92,180.47 L308.81,178.49 L303.7,176.66 L298.59,175.01 L293.48,173.56 L288.37,172.32 L283.26,170.96 L278.15,170.4 Z" fill="url(#ogiii)" filter="url(#blur1)"/>
<use href="#enviii" transform="translate(0,170.4) scale(1,-0.96)" stroke="url(#ogiii)" stroke-width="1.2" filter="url(#blur05)"/>
<path d="M278.15,170.4 L283.26,169.91 L288.37,168.71 L293.48,167.62 L298.59,166.34 L303.7,164.89 L308.81,163.28 L313.92,161.54 L319.03,159.76 L324.14,158.05 L329.25,156.48 L334.36,155.06 L339.47,153.81 L344.58,152.73 L349.69,151.87 L354.8,151.2 L359.91,150.71 L365.02,150.31 L370.14,150 L375.25,149.74 L380.36,149.46 L385.47,148.91 L390.58,147.84 L395.69,146.37 L400.8,144.71 L405.91,142.96 L411.02,141.2 L416.13,139.46 L421.24,137.78 L426.35,136.3 L431.46,135.09 L436.57,134.15 L441.68,133.39 L446.79,132.79 L451.9,132.4 L451.9,127.21 L446.79,127.66 L441.68,128.35 L436.57,129.2 L431.46,130.27 L426.35,131.66 L421.24,133.34 L416.13,135.24 L411.02,137.22 L405.91,139.22 L400.8,141.21 L395.69,143.1 L390.58,144.76 L385.47,145.98 L380.36,146.61 L375.25,146.93 L370.14,147.22 L365.02,147.58 L359.91,148.03 L354.8,148.58 L349.69,149.34 L344.58,150.32 L339.47,151.55 L334.36,152.96 L329.25,154.58 L324.14,156.36 L319.03,158.31 L313.92,160.33 L308.81,162.31 L303.7,164.14 L298.59,165.79 L293.48,167.24 L288.37,168.48 L283.26,169.84 L278.15,170.4 Z" fill="url(#ogiii)" filter="url(#blur1)"/>
<use href="#enviii" transform="translate(0,170.4) scale(1,0.96)" stroke="url(#ogiii)" stroke-width="1.2" filter="url(#blur05)"/>
<use href="#enviii" transform="translate(0,170.4) scale(1,-0.7)" stroke="url(#cgiii)" stroke-width="2.0" filter="url(#blur1)"/>
<use href="#enviii" transform="translate(0,170.4) scale(1,0.7)" stroke="url(#cgiii)" stroke-width="2.0" filter="url(#blur1)"/>
<line x1="278.15" y1="170.1" x2="451.9" y2="170.1" stroke="#c0b2b0" stroke-width="1.3" stroke-dasharray="2.09 1.51" stroke-dashoffset="-1.51"/>
<line x1="278.15" y1="171.2" x2="451.9" y2="171.2" stroke="#28e028" stroke-width="2.0" stroke-dasharray="1.51 2.09"/>
<line x1="365.3" y1="116.35" x2="365.3" y2="221.9" stroke="#ee10ee" stroke-width="1.15" stroke-dasharray="3.6 2"/>
</g>
<rect x="277.4" y="366.1" width="174.1" height="105.5" fill="#0a0000"/>
<g clip-path="url(#hciv)">
<path d="M277.4,419.4 L282.52,418.35 L287.64,415.98 L292.76,414.13 L297.88,412.16 L303,410.13 L308.12,408.23 L313.24,406.56 L318.36,405.06 L323.49,403.6 L328.61,402.11 L333.73,400.6 L338.85,399.06 L343.97,397.52 L349.09,395.95 L354.21,394.37 L359.33,392.7 L364.45,390.87 L369.57,388.89 L374.69,386.84 L379.81,384.81 L384.93,382.83 L390.05,380.86 L395.17,379.07 L400.29,377.58 L405.41,376.41 L410.54,375.35 L415.66,374.14 L420.78,372.74 L425.9,371.24 L431.02,369.95 L436.14,369.02 L441.26,368.42 L446.38,367.94 L451.5,367.57 L451.5,470.45 L446.38,469.49 L441.26,468.23 L436.14,466.88 L431.02,465.48 L425.9,464.05 L420.78,462.58 L415.66,461.15 L410.54,459.77 L405.41,458.44 L400.29,457.11 L395.17,455.78 L390.05,454.44 L384.93,453.09 L379.81,451.69 L374.69,450.23 L369.57,448.71 L364.45,447.18 L359.33,445.63 L354.21,444.08 L349.09,442.52 L343.97,440.97 L338.85,439.43 L333.73,437.9 L328.61,436.38 L323.49,434.88 L318.36,433.39 L313.24,431.87 L308.12,430.21 L303,428.34 L297.88,426.36 L292.76,424.45 L287.64,422.67 L282.52,420.4 L277.4,419.4 Z" fill="#3c0101"/>
<g stroke="#4c0404" stroke-width="0.8" filter="url(#blur05)"><use href="#envdiv" transform="translate(0,419.4) scale(1,0.04)" opacity="0.48"/><use href="#enviv" transform="translate(0,419.4) scale(1,0.04)" opacity="0.48"/><use href="#envdiv" transform="translate(0,419.4) scale(1,0.08)" opacity="0.51"/><use href="#enviv" transform="translate(0,419.4) scale(1,0.08)" opacity="0.51"/><use href="#envdiv" transform="translate(0,419.4) scale(1,0.12)" opacity="0.54"/><use href="#enviv" transform="translate(0,419.4) scale(1,0.12)" opacity="0.54"/><use href="#envdiv" transform="translate(0,419.4) scale(1,0.17)" opacity="0.57"/><use href="#enviv" transform="translate(0,419.4) scale(1,0.17)" opacity="0.57"/><use href="#envdiv" transform="translate(0,419.4) scale(1,0.21)" opacity="0.6"/><use href="#enviv" transform="translate(0,419.4) scale(1,0.21)" opacity="0.6"/><use href="#envdiv" transform="translate(0,419.4) scale(1,0.25)" opacity="0.62"/><use href="#enviv" transform="translate(0,419.4) scale(1,0.25)" opacity="0.62"/><use href="#envdiv" transform="translate(0,419.4) scale(1,0.29)" opacity="0.65"/><use href="#enviv" transform="translate(0,419.4) scale(1,0.29)" opacity="0.65"/><use href="#envdiv" transform="translate(0,419.4) scale(1,0.33)" opacity="0.68"/><use href="#enviv" transform="translate(0,419.4) scale(1,0.33)" opacity="0.68"/><use href="#envdiv" transform="translate(0,419.4) scale(1,0.38)" opacity="0.71"/><use href="#enviv" transform="translate(0,419.4) scale(1,0.38)" opacity="0.71"/><use href="#envdiv" transform="translate(0,419.4) scale(1,0.42)" opacity="0.74"/><use href="#enviv" transform="translate(0,419.4) scale(1,0.42)" opacity="0.74"/><use href="#envdiv" transform="translate(0,419.4) scale(1,0.46)" opacity="0.77"/><use href="#enviv" transform="translate(0,419.4) scale(1,0.46)" opacity="0.77"/><use href="#envdiv" transform="translate(0,419.4) scale(1,0.5)" opacity="0.8"/><use href="#enviv" transform="translate(0,419.4) scale(1,0.5)" opacity="0.8"/><use href="#envdiv" transform="translate(0,419.4) scale(1,0.54)" opacity="0.83"/><use href="#enviv" transform="translate(0,419.4) scale(1,0.54)" opacity="0.83"/><use href="#envdiv" transform="translate(0,419.4) scale(1,0.58)" opacity="0.86"/><use href="#enviv" transform="translate(0,419.4) scale(1,0.58)" opacity="0.86"/><use href="#envdiv" transform="translate(0,419.4) scale(1,0.62)" opacity="0.89"/><use href="#enviv" transform="translate(0,419.4) scale(1,0.62)" opacity="0.89"/><use href="#envdiv" transform="translate(0,419.4) scale(1,0.67)" opacity="0.92"/><use href="#enviv" transform="translate(0,419.4) scale(1,0.67)" opacity="0.92"/><use href="#envdiv" transform="translate(0,419.4) scale(1,0.71)" opacity="0.95"/><use href="#enviv" transform="translate(0,419.4) scale(1,0.71)" opacity="0.95"/><use href="#envdiv" transform="translate(0,419.4) scale(1,0.75)" opacity="0.97"/><use href="#enviv" transform="translate(0,419.4) scale(1,0.75)" opacity="0.97"/><use href="#envdiv" transform="translate(0,419.4) scale(1,0.79)" opacity="1"/><use href="#enviv" transform="translate(0,419.4) scale(1,0.79)" opacity="1"/><use href="#envdiv" transform="translate(0,419.4) scale(1,0.83)" opacity="1"/><use href="#enviv" transform="translate(0,419.4) scale(1,0.83)" opacity="1"/><use href="#envdiv" transform="translate(0,419.4) scale(1,0.88)" opacity="1"/><use href="#enviv" transform="translate(0,419.4) scale(1,0.88)" opacity="1"/><use href="#envdiv" transform="translate(0,419.4) scale(1,0.92)" opacity="1"/><use href="#enviv" transform="translate(0,419.4) scale(1,0.92)" opacity="1"/><use href="#envdiv" transform="translate(0,419.4) scale(1,0.96)" opacity="1"/><use href="#enviv" transform="translate(0,419.4) scale(1,0.96)" opacity="1"/></g>
<use href="#envdiv" transform="translate(0,419.4) scale(1,0.98)" stroke="url(#ogiv)" stroke-width="1.2" filter="url(#blur1)"/>
<use href="#enviv" transform="translate(0,419.4) scale(1,0.98)" stroke="url(#ogiv)" stroke-width="1.2" filter="url(#blur1)"/>
<line x1="277.4" y1="419.1" x2="451.5" y2="419.1" stroke="#c0b2b0" stroke-width="1.3" stroke-dasharray="2.09 1.51" stroke-dashoffset="-1.51"/>
<line x1="277.4" y1="420.2" x2="451.5" y2="420.2" stroke="#28e028" stroke-width="2.0" stroke-dasharray="1.51 2.09"/>
</g>
<rect x="218.1" y="117.4" width="7.7" height="106.3" fill="url(#hot)" stroke="#999" stroke-width="0.8"/>
<text x="222.85" y="113.6" font-size="12.5" text-anchor="middle" fill="#444">|ψ|</text>
<text x="227" y="125.6" font-size="11" text-anchor="start" fill="#000">0.5</text>
<text x="227" y="223.4" font-size="11" text-anchor="start" fill="#000">0</text>
<rect x="219.7" y="365.3" width="7.3" height="106.2" fill="url(#hot)" stroke="#999" stroke-width="0.8"/>
<text x="225.05" y="362.1" font-size="12.5" text-anchor="middle" fill="#444">|ψ|</text>
<text x="228.2" y="373.6" font-size="11" text-anchor="start" fill="#000">0.5</text>
<text x="228.2" y="471.6" font-size="11" text-anchor="start" fill="#000">0</text>
<rect x="456" y="117.4" width="7.9" height="106.3" fill="url(#hot)" stroke="#999" stroke-width="0.8"/>
<text x="460.85" y="113.6" font-size="12.5" text-anchor="middle" fill="#444">|ψ|</text>
<text x="465.1" y="125.6" font-size="11" text-anchor="start" fill="#000">0.5</text>
<text x="465.1" y="223.4" font-size="11" text-anchor="start" fill="#000">0</text>
<rect x="455.1" y="366.7" width="7.5" height="105.2" fill="url(#hot)" stroke="#999" stroke-width="0.8"/>
<text x="458.55" y="362.6" font-size="12.5" text-anchor="middle" fill="#444">|ψ|</text>
<text x="463.8" y="374.4" font-size="11" text-anchor="start" fill="#000">0.5</text>
<text x="463.8" y="472.6" font-size="11" text-anchor="start" fill="#000">0</text>
<text x="38.2" y="128.4" font-size="14.5" text-anchor="end" fill="#000">-50</text>
<text x="38.2" y="176.2" font-size="14.5" text-anchor="end" fill="#000">0</text>
<text x="38.2" y="223.8" font-size="14.5" text-anchor="end" fill="#000">50</text>
<text x="41.2" y="235.8" font-size="14.5" text-anchor="middle" fill="#000">0</text>
<text x="127.6" y="235.8" font-size="14.5" text-anchor="middle" fill="#000">0.5</text>
<text x="214" y="235.8" font-size="14.5" text-anchor="middle" fill="#000">1</text>
<text x="117.1" y="248.7" font-size="14.5">z/Z<tspan font-size="9.5" dy="2.5">1</tspan></text>
<text x="0" y="0" font-size="14.5" text-anchor="middle" transform="translate(12,171.2) rotate(-90)">y/Y</text>
<text x="42.8" y="215.3" font-size="14" fill="#fff">1/φ<tspan font-size="9.5" dy="6.5">1</tspan><tspan dy="-6.5">=1/2</tspan></text>
<text x="39.4" y="376.4" font-size="14.5" text-anchor="end" fill="#000">-75</text>
<text x="39.4" y="424.4" font-size="14.5" text-anchor="end" fill="#000">0</text>
<text x="39.4" y="472.3" font-size="14.5" text-anchor="end" fill="#000">75</text>
<text x="42.4" y="485" font-size="14.5" text-anchor="middle" fill="#000">0</text>
<text x="127.5" y="485" font-size="14.5" text-anchor="middle" fill="#000">0.5</text>
<text x="213.9" y="485" font-size="14.5" text-anchor="middle" fill="#000">1</text>
<text x="117.4" y="495.6" font-size="14.5">z/Z<tspan font-size="9.5" dy="2.5">2</tspan></text>
<text x="0" y="0" font-size="14.5" text-anchor="middle" transform="translate(14.5,418.4) rotate(-90)">y/Y</text>
<text x="43.3" y="462" font-size="14" fill="#fff">1/φ<tspan font-size="9.5" dy="6.5">2</tspan><tspan dy="-6.5">=2/3</tspan></text>
<text x="277" y="128.1" font-size="14.5" text-anchor="end" fill="#000">-100</text>
<text x="277" y="177.3" font-size="14.5" text-anchor="end" fill="#000">0</text>
<text x="277" y="224" font-size="14.5" text-anchor="end" fill="#000">100</text>
<text x="279.1" y="235.7" font-size="14.5" text-anchor="middle" fill="#000">0</text>
<text x="364.75" y="235.7" font-size="14.5" text-anchor="middle" fill="#000">0.5</text>
<text x="451.5" y="235.7" font-size="14.5" text-anchor="middle" fill="#000">1</text>
<text x="355.2" y="248.9" font-size="14.5">z/Z<tspan font-size="9.5" dy="2.5">3</tspan></text>
<text x="0" y="0" font-size="14.5" text-anchor="middle" transform="translate(253.5,171.3) rotate(-90)">y/Y</text>
<text x="280.8" y="213.5" font-size="14" fill="#fff">1/φ<tspan font-size="9.5" dy="6.5">3</tspan><tspan dy="-6.5">=3/5</tspan></text>
<text x="275.8" y="376.7" font-size="14.5" text-anchor="end" fill="#000">-400</text>
<text x="275.8" y="425.3" font-size="14.5" text-anchor="end" fill="#000">0</text>
<text x="275.8" y="472.1" font-size="14.5" text-anchor="end" fill="#000">400</text>
<text x="278.6" y="485" font-size="14.5" text-anchor="middle" fill="#000">0</text>
<text x="364.75" y="485" font-size="14.5" text-anchor="middle" fill="#000">0.5</text>
<text x="450.3" y="485" font-size="14.5" text-anchor="middle" fill="#000">1</text>
<text x="353.9" y="497.7" font-size="14.5">z/Z<tspan font-size="9.5" dy="2.5">6</tspan></text>
<text x="0" y="0" font-size="14.5" text-anchor="middle" transform="translate(252.5,419.3) rotate(-90)">y/Y</text>
<text x="280.5" y="461.5" font-size="14" fill="#fff">1/φ<tspan font-size="9.5" dy="6.5">6</tspan><tspan dy="-6.5">=13/21</tspan></text>
<text x="437.6" y="465.9" font-size="20.5" text-anchor="start" fill="#fff">a</text>
<path d="M517.7,208.44 H532.4 V218.9" fill="none" stroke="#ff1a1a" stroke-width="1.5" stroke-dasharray="1.5 1.7"/>
<path d="M517.7,197.98 H540.2 V218.9" fill="none" stroke="#1a1aff" stroke-width="1.5" stroke-dasharray="1.5 1.7"/>
<path d="M517.7,187.52 H555 V218.9" fill="none" stroke="#1aee1a" stroke-width="1.5" stroke-dasharray="1.5 1.7"/>
<path d="M517.7,166.6 H577.6 V218.9" fill="none" stroke="#ff8c1a" stroke-width="1.5" stroke-dasharray="1.5 1.7"/>
<path d="M517.7,135.22 H615.2 V218.9" fill="none" stroke="#1aeeee" stroke-width="1.5" stroke-dasharray="1.5 1.7"/>
<path d="M517.7,82.92 H675.8 V218.9" fill="none" stroke="#8c1aff" stroke-width="1.5" stroke-dasharray="1.5 1.7"/>
<path d="M517.7,218.98 L521.65,215.58 L525.61,212.12 L529.56,208.61 L533.51,205.15 L537.46,201.78 L541.42,198.49 L545.37,195.18 L549.32,191.77 L553.27,188.25 L557.23,184.7 L561.18,181.25 L565.13,177.93 L569.08,174.69 L573.03,171.39 L576.99,167.94 L580.94,164.36 L584.89,160.79 L588.85,157.36 L592.8,154.09 L596.75,150.9 L600.7,147.59 L604.65,144.09 L608.61,140.45 L612.56,136.87 L616.51,133.48 L620.47,130.28 L624.42,127.12 L628.37,123.78 L632.32,120.22 L636.27,116.53 L640.23,112.95 L644.18,109.62 L648.13,106.49 L652.08,103.34 L656.04,99.96 L659.99,96.32 L663.94,92.6 L667.89,89.04 L671.85,85.78 L675.8,82.72" fill="none" stroke="#8c1aff" stroke-width="1.6"/>
<path d="M517.7,218.83 L521.65,215.47 L525.61,212.19 L529.56,208.95 L533.51,205.68 L537.46,202.32 L541.42,198.87 L545.37,195.43 L549.32,192.08 L553.27,188.85 L557.23,185.65 L561.18,182.39 L565.13,178.98 L569.08,175.49 L573.03,172.03 L576.99,168.71 L580.94,165.53 L584.89,162.37 L588.85,159.09 L592.8,155.63 L596.75,152.08 L600.7,148.62 L604.65,145.35 L608.61,142.23 L612.56,139.1 L616.51,135.78 L620.47,132.25 L624.42,128.67 L628.37,125.22 L632.32,122.01 L636.27,118.95 L640.23,115.82 L644.18,112.45 L648.13,108.86 L652.08,105.24 L656.04,101.83 L659.99,98.7 L663.94,95.69 L667.89,92.54 L671.85,89.1 L675.8,85.44" fill="none" stroke="#1aeeee" stroke-width="1.6"/>
<path d="M517.7,218.98 L521.65,215.63 L525.61,212.21 L529.56,208.75 L533.51,205.34 L537.46,202.02 L541.42,198.78 L545.37,195.51 L549.32,192.15 L553.27,188.68 L557.23,185.18 L561.18,181.77 L565.13,178.5 L569.08,175.3 L573.03,172.05 L576.99,168.65 L580.94,165.12 L584.89,161.6 L588.85,158.21 L592.8,155 L596.75,151.85 L600.7,148.59 L604.65,145.13 L608.61,141.55 L612.56,138.01 L616.51,134.67 L620.47,131.52 L624.42,128.4 L628.37,125.11 L632.32,121.59 L636.27,117.96 L640.23,114.42 L644.18,111.14 L648.13,108.06 L652.08,104.96 L656.04,101.63 L659.99,98.03 L663.94,94.35 L667.89,90.85 L671.85,87.64 L675.8,84.62" fill="none" stroke="#ff8c1a" stroke-width="1.6"/>
<path d="M517.7,218.83 L521.65,215.51 L525.61,212.28 L529.56,209.08 L533.51,205.86 L537.46,202.54 L541.42,199.14 L545.37,195.75 L549.32,192.44 L553.27,189.25 L557.23,186.1 L561.18,182.88 L565.13,179.52 L569.08,176.07 L573.03,172.66 L576.99,169.38 L580.94,166.25 L584.89,163.14 L588.85,159.9 L592.8,156.48 L596.75,152.98 L600.7,149.56 L604.65,146.34 L608.61,143.27 L612.56,140.18 L616.51,136.9 L620.47,133.42 L624.42,129.88 L628.37,126.48 L632.32,123.32 L636.27,120.3 L640.23,117.22 L644.18,113.89 L648.13,110.34 L652.08,106.77 L656.04,103.41 L659.99,100.32 L663.94,97.35 L667.89,94.25 L671.85,90.86 L675.8,87.24" fill="none" stroke="#1aee1a" stroke-width="1.6"/>
<path d="M517.7,218.87 L521.65,216.23 L525.61,213.54 L529.56,210.78 L533.51,207.95 L537.46,205.13 L541.42,202.41 L545.37,199.78 L549.32,197.17 L553.27,194.48 L557.23,191.67 L561.18,188.79 L565.13,185.96 L569.08,183.27 L573.03,180.7 L576.99,178.12 L580.94,175.42 L584.89,172.55 L588.85,169.62 L592.8,166.8 L596.75,164.16 L600.7,161.64 L604.65,159.08 L608.61,156.33 L612.56,153.4 L616.51,150.44 L620.47,147.64 L624.42,145.07 L628.37,142.6 L632.32,140.03 L636.27,137.23 L640.23,134.23 L644.18,131.25 L648.13,128.5 L652.08,125.99 L656.04,123.57 L659.99,120.98 L663.94,118.1 L667.89,115.05 L671.85,112.07 L675.8,109.38" fill="none" stroke="#ff1a1a" stroke-width="1.6"/>
<path d="M517.7,218.9 L675.8,83.5" fill="none" stroke="#000" stroke-width="1.9"/>
<path d="M517.7,218.91 L521.65,215.21 L525.61,211.55 L529.56,207.96 L533.51,204.42 L537.46,200.85 L541.42,197.21 L545.37,193.48 L549.32,189.76 L553.27,186.11 L557.23,182.56 L561.18,179.05 L565.13,175.49 L569.08,171.81 L573.03,168.04 L576.99,164.29 L580.94,160.67 L584.89,157.17 L588.85,153.69 L592.8,150.12 L596.75,146.39 L600.7,142.58 L604.65,138.83 L608.61,135.24 L612.56,131.8 L616.51,128.34 L620.47,124.74 L624.42,120.96 L628.37,117.11 L632.32,113.37 L636.27,109.84 L640.23,106.44 L644.18,102.99 L648.13,99.35 L652.08,95.51 L656.04,91.64 L659.99,87.92 L663.94,84.45 L667.89,81.1 L671.85,77.64 L675.8,73.94" fill="none" stroke="#1a1aff" stroke-width="1.8"/>
<rect x="517.7" y="8.7" width="158.1" height="210.2" fill="none" stroke="#000" stroke-width="1.5"/>
<line x1="513.7" y1="218.9" x2="517.7" y2="218.9" stroke="#000" stroke-width="1.2"/>
<text x="512.5" y="224.3" font-size="14.5" text-anchor="end" fill="#000">0</text>
<line x1="513.7" y1="208.44" x2="517.7" y2="208.44" stroke="#000" stroke-width="1.2"/>
<text x="512.5" y="214.44" font-size="14.5" text-anchor="end" fill="#000">1</text>
<line x1="513.7" y1="197.98" x2="517.7" y2="197.98" stroke="#000" stroke-width="1.2"/>
<text x="512.5" y="201.98" font-size="14.5" text-anchor="end" fill="#000">2</text>
<line x1="513.7" y1="187.52" x2="517.7" y2="187.52" stroke="#000" stroke-width="1.2"/>
<text x="512.5" y="189.42" font-size="14.5" text-anchor="end" fill="#000">3</text>
<line x1="513.7" y1="166.6" x2="517.7" y2="166.6" stroke="#000" stroke-width="1.2"/>
<text x="512.5" y="171.6" font-size="14.5" text-anchor="end" fill="#000">5</text>
<line x1="513.7" y1="135.22" x2="517.7" y2="135.22" stroke="#000" stroke-width="1.2"/>
<text x="512.5" y="140.72" font-size="14.5" text-anchor="end" fill="#000">8</text>
<line x1="513.7" y1="82.92" x2="517.7" y2="82.92" stroke="#000" stroke-width="1.2"/>
<text x="512.5" y="87.92" font-size="14.5" text-anchor="end" fill="#000">13</text>
<line x1="517.7" y1="218.9" x2="517.7" y2="222.4" stroke="#000" stroke-width="1.2"/>
<line x1="532.4" y1="218.9" x2="532.4" y2="222.4" stroke="#000" stroke-width="1.2"/>
<line x1="540.2" y1="218.9" x2="540.2" y2="222.4" stroke="#000" stroke-width="1.2"/>
<line x1="555" y1="218.9" x2="555" y2="222.4" stroke="#000" stroke-width="1.2"/>
<line x1="577.6" y1="218.9" x2="577.6" y2="222.4" stroke="#000" stroke-width="1.2"/>
<line x1="615.2" y1="218.9" x2="615.2" y2="222.4" stroke="#000" stroke-width="1.2"/>
<line x1="675.8" y1="218.9" x2="675.8" y2="222.4" stroke="#000" stroke-width="1.2"/>
<text x="517.7" y="234.7" font-size="14.5" text-anchor="middle" fill="#000">0</text>
<text x="524.5" y="233.9" font-size="14.5">Z<tspan font-size="9.2" dy="2.5">1</tspan></text>
<text x="537.3" y="233.9" font-size="14.5">Z<tspan font-size="9.2" dy="2.5">2</tspan></text>
<text x="551.9" y="233.9" font-size="14.5">Z<tspan font-size="9.2" dy="2.5">3</tspan></text>
<text x="573.6" y="233.9" font-size="14.5">Z<tspan font-size="9.2" dy="2.5">4</tspan></text>
<text x="609.8" y="233.9" font-size="14.5">Z<tspan font-size="9.2" dy="2.5">5</tspan></text>
<text x="670.3" y="233.9" font-size="14.5">Z<tspan font-size="9.2" dy="2.5">6</tspan></text>
<text x="591" y="247.5" font-size="14.5" text-anchor="middle" fill="#000">z</text>
<text x="0" y="0" font-size="14.5" text-anchor="middle" transform="translate(495.6,127.4) rotate(-90)">y<tspan font-size="10.5" dy="0.4">n</tspan><tspan dy="-0.4">/Y</tspan></text>
<text x="663.4" y="213.6" font-size="21" text-anchor="start" fill="#000">b</text>
<rect x="521.8" y="12.3" width="124.6" height="49" fill="#fff" stroke="#bbb" stroke-width="0.8"/>
<line x1="522.1" y1="18.8" x2="533.8" y2="18.8" stroke="#ff1a1a" stroke-width="1.4"/>
<text x="536.4" y="21.4" font-size="8.6">1/φ<tspan font-size="6" dy="2.3">1</tspan><tspan dy="-2.3">=1/2</tspan></text>
<line x1="593" y1="18.8" x2="604.7" y2="18.8" stroke="#1a1aff" stroke-width="1.4"/>
<text x="607.3" y="21.4" font-size="8.6">1/φ<tspan font-size="6" dy="2.3">2</tspan><tspan dy="-2.3">=2/3</tspan></text>
<line x1="522.1" y1="31.3" x2="533.8" y2="31.3" stroke="#1aee1a" stroke-width="1.4"/>
<text x="536.4" y="33.9" font-size="8.6">1/φ<tspan font-size="6" dy="2.3">3</tspan><tspan dy="-2.3">=3/5</tspan></text>
<line x1="593" y1="31.3" x2="604.7" y2="31.3" stroke="#ff8c1a" stroke-width="1.4"/>
<text x="607.3" y="33.9" font-size="8.6">1/φ<tspan font-size="6" dy="2.3">4</tspan><tspan dy="-2.3">=5/8</tspan></text>
<line x1="522.1" y1="43.9" x2="533.8" y2="43.9" stroke="#1aeeee" stroke-width="1.4"/>
<text x="536.4" y="46.5" font-size="8.6">1/φ<tspan font-size="6" dy="2.3">5</tspan><tspan dy="-2.3">=8/13</tspan></text>
<line x1="593" y1="43.9" x2="604.7" y2="43.9" stroke="#8c1aff" stroke-width="1.4"/>
<text x="607.3" y="46.5" font-size="8.6">1/φ<tspan font-size="6" dy="2.3">6</tspan><tspan dy="-2.3">=13/21</tspan></text>
<line x1="522.1" y1="56.7" x2="533.8" y2="56.7" stroke="#000" stroke-width="1.3" stroke-dasharray="1.4 1.2"/>
<text x="536.9" y="58.6" font-size="8.6" text-anchor="start" fill="#000">Asymptotic limit</text>
<line x1="517.8" y1="323.8" x2="675.8" y2="323.8" stroke="#111" stroke-width="1.6" stroke-dasharray="4 2.8"/>
<path d="M517.6,431.9 L549.4,279 L581,340.1 L612.6,317.3 L644.1,325.8 L675.9,323" fill="none" stroke="#ff1010" stroke-width="1.6" stroke-dasharray="1.6 1.1"/>
<circle cx="517.6" cy="431.9" r="2.4" fill="#ff1010"/>
<circle cx="517.1" cy="431.3" r="0.8" fill="#ff9090"/>
<circle cx="549.4" cy="279" r="2.4" fill="#ff1010"/>
<circle cx="548.9" cy="278.4" r="0.8" fill="#ff9090"/>
<circle cx="581" cy="340.1" r="2.4" fill="#ff1010"/>
<circle cx="580.5" cy="339.5" r="0.8" fill="#ff9090"/>
<circle cx="612.6" cy="317.3" r="2.4" fill="#ff1010"/>
<circle cx="612.1" cy="316.7" r="0.8" fill="#ff9090"/>
<circle cx="644.1" cy="325.8" r="2.4" fill="#ff1010"/>
<circle cx="643.6" cy="325.2" r="0.8" fill="#ff9090"/>
<circle cx="675.9" cy="323" r="2.4" fill="#ff1010"/>
<circle cx="675.4" cy="322.4" r="0.8" fill="#ff9090"/>
<rect x="517.8" y="258" width="158" height="211" fill="none" stroke="#000" stroke-width="1.5"/>
<line x1="514" y1="258" x2="517.8" y2="258" stroke="#000" stroke-width="1.2"/>
<text x="512.3" y="264.3" font-size="14.5" text-anchor="end" fill="#000">3</text>
<line x1="514" y1="363.5" x2="517.8" y2="363.5" stroke="#000" stroke-width="1.2"/>
<text x="512.3" y="369.8" font-size="14.5" text-anchor="end" fill="#000">2.5</text>
<line x1="514" y1="469" x2="517.8" y2="469" stroke="#000" stroke-width="1.2"/>
<text x="512.3" y="475.3" font-size="14.5" text-anchor="end" fill="#000">2</text>
<line x1="515.8" y1="416.25" x2="517.8" y2="416.25" stroke="#000" stroke-width="1.1"/>
<line x1="515.8" y1="310.75" x2="517.8" y2="310.75" stroke="#000" stroke-width="1.1"/>
<line x1="517.8" y1="465.5" x2="517.8" y2="471.5" stroke="#000" stroke-width="1.2"/>
<text x="517.3" y="483.9" font-size="14.5" text-anchor="middle" fill="#000">1</text>
<line x1="549.4" y1="465.5" x2="549.4" y2="471.5" stroke="#000" stroke-width="1.2"/>
<text x="548.9" y="483.9" font-size="14.5" text-anchor="middle" fill="#000">2</text>
<line x1="581" y1="465.5" x2="581" y2="471.5" stroke="#000" stroke-width="1.2"/>
<text x="580.5" y="483.9" font-size="14.5" text-anchor="middle" fill="#000">3</text>
<line x1="612.6" y1="465.5" x2="612.6" y2="471.5" stroke="#000" stroke-width="1.2"/>
<text x="612.1" y="483.9" font-size="14.5" text-anchor="middle" fill="#000">4</text>
<line x1="644.2" y1="465.5" x2="644.2" y2="471.5" stroke="#000" stroke-width="1.2"/>
<text x="643.7" y="483.9" font-size="14.5" text-anchor="middle" fill="#000">5</text>
<line x1="675.8" y1="465.5" x2="675.8" y2="471.5" stroke="#000" stroke-width="1.2"/>
<text x="675.3" y="483.9" font-size="14.5" text-anchor="middle" fill="#000">6</text>
<text x="600.3" y="497.8" font-size="14.2" text-anchor="middle" fill="#000">nth BRA</text>
<text x="0" y="0" font-size="14.5" text-anchor="middle" transform="translate(491.3,366.2) rotate(-90)">v<tspan font-size="10.5">n</tspan></text>
<text x="515.3" y="254.6" font-size="11.5"><tspan font-size="9.5">×</tspan>10<tspan font-size="9.5" dy="-4.6">-3</tspan></text>
<text x="664.6" y="464.4" font-size="22" text-anchor="start" fill="#000">c</text>
<text x="521.2" y="445.5" font-size="11.5" fill="#ee2020">1/φ<tspan font-size="7.4" dy="5.6">1</tspan><tspan dy="-5.6">=1/2</tspan></text>
<text x="544.5" y="271.2" font-size="11.5" fill="#ee2020">1/φ<tspan font-size="7.4" dy="5.6">2</tspan><tspan dy="-5.6">=2/3</tspan></text>
<text x="565.2" y="353.7" font-size="11.5" fill="#ee2020">1/φ<tspan font-size="7.4" dy="5.6">3</tspan><tspan dy="-5.6">=3/5</tspan></text>
<text x="580" y="313.1" font-size="11.5" fill="#ee2020">1/φ<tspan font-size="7.4" dy="5.6">4</tspan><tspan dy="-5.6">=5/8</tspan></text>
<text x="625.5" y="336.8" font-size="11.5" fill="#ee2020">1/φ<tspan font-size="7.4" dy="5.6">5</tspan><tspan dy="-5.6">=8/13</tspan></text>
<text x="624.1" y="314.6" font-size="11.5" fill="#ee2020">1/φ<tspan font-size="7.4" dy="5.6">6</tspan><tspan dy="-5.6">=13/21</tspan></text>
<rect x="558.3" y="398.4" width="113.8" height="33.1" fill="#fff" stroke="#bbb" stroke-width="0.8"/>
<line x1="559.5" y1="408.6" x2="576.7" y2="408.6" stroke="#111" stroke-width="1.6" stroke-dasharray="4 2.8"/>
<text x="580" y="412" font-size="13.3" text-anchor="start" fill="#000">Asymptotic limit</text>
<line x1="559.5" y1="424.6" x2="576.7" y2="424.6" stroke="#ff1010" stroke-width="1.4" stroke-dasharray="1.5 1.2"/>
<circle cx="567.5" cy="424.6" r="2.4" fill="#ff1010"/>
<text x="579.6" y="427.9" font-size="13.3" text-anchor="start" fill="#000">Simulation</text>
<rect x="0" y="0" width="685" height="1" fill="#f8f5f5"/><rect x="0" y="0" width="1" height="503" fill="#f8f5f5"/><rect x="684" y="0" width="1" height="503" fill="#f8f5f5"/><rect x="0" y="502" width="685" height="1" fill="#ebebeb"/></svg></body></html>
